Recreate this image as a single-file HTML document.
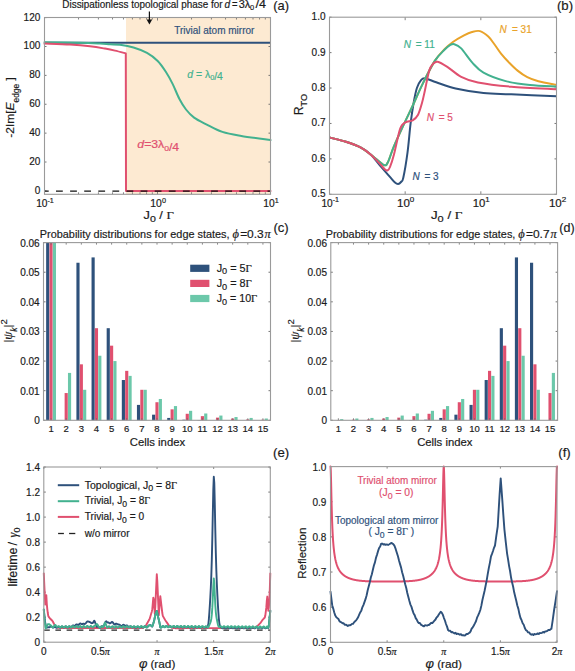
<!DOCTYPE html>
<html><head><meta charset="utf-8"><style>
html,body{margin:0;padding:0;background:#fff;overflow:hidden;width:575px;height:671px;}
svg{display:block;}
</style></head><body>
<svg width="575" height="671" viewBox="0 0 575 671" font-family="Liberation Sans">
<rect width="575" height="671" fill="#fff"/>
<rect x="126.00" y="17.50" width="144.50" height="176.80" fill="#fdead2" />
<line x1="44.50" y1="190.90" x2="46.50" y2="190.90" stroke="#666" stroke-width="0.9" />
<line x1="268.50" y1="190.90" x2="270.50" y2="190.90" stroke="#666" stroke-width="0.9" />
<text x="40.30" y="193.80" font-size="10" text-anchor="end" fill="#1a1a1a" stroke="#1a1a1a" stroke-width="0.18" font-family="Liberation Sans" >0</text>
<line x1="44.50" y1="162.02" x2="46.50" y2="162.02" stroke="#666" stroke-width="0.9" />
<line x1="268.50" y1="162.02" x2="270.50" y2="162.02" stroke="#666" stroke-width="0.9" />
<text x="40.30" y="164.92" font-size="10" text-anchor="end" fill="#1a1a1a" stroke="#1a1a1a" stroke-width="0.18" font-family="Liberation Sans" >20</text>
<line x1="44.50" y1="133.14" x2="46.50" y2="133.14" stroke="#666" stroke-width="0.9" />
<line x1="268.50" y1="133.14" x2="270.50" y2="133.14" stroke="#666" stroke-width="0.9" />
<text x="40.30" y="136.04" font-size="10" text-anchor="end" fill="#1a1a1a" stroke="#1a1a1a" stroke-width="0.18" font-family="Liberation Sans" >40</text>
<line x1="44.50" y1="104.26" x2="46.50" y2="104.26" stroke="#666" stroke-width="0.9" />
<line x1="268.50" y1="104.26" x2="270.50" y2="104.26" stroke="#666" stroke-width="0.9" />
<text x="40.30" y="107.16" font-size="10" text-anchor="end" fill="#1a1a1a" stroke="#1a1a1a" stroke-width="0.18" font-family="Liberation Sans" >60</text>
<line x1="44.50" y1="75.38" x2="46.50" y2="75.38" stroke="#666" stroke-width="0.9" />
<line x1="268.50" y1="75.38" x2="270.50" y2="75.38" stroke="#666" stroke-width="0.9" />
<text x="40.30" y="78.28" font-size="10" text-anchor="end" fill="#1a1a1a" stroke="#1a1a1a" stroke-width="0.18" font-family="Liberation Sans" >80</text>
<line x1="44.50" y1="46.50" x2="46.50" y2="46.50" stroke="#666" stroke-width="0.9" />
<line x1="268.50" y1="46.50" x2="270.50" y2="46.50" stroke="#666" stroke-width="0.9" />
<text x="40.30" y="49.40" font-size="10" text-anchor="end" fill="#1a1a1a" stroke="#1a1a1a" stroke-width="0.18" font-family="Liberation Sans" >100</text>
<line x1="44.50" y1="17.62" x2="46.50" y2="17.62" stroke="#666" stroke-width="0.9" />
<line x1="268.50" y1="17.62" x2="270.50" y2="17.62" stroke="#666" stroke-width="0.9" />
<text x="40.30" y="20.52" font-size="10" text-anchor="end" fill="#1a1a1a" stroke="#1a1a1a" stroke-width="0.18" font-family="Liberation Sans" >120</text>
<line x1="78.52" y1="194.30" x2="78.52" y2="192.30" stroke="#666" stroke-width="0.8" />
<line x1="78.52" y1="17.50" x2="78.52" y2="19.50" stroke="#666" stroke-width="0.8" />
<line x1="98.41" y1="194.30" x2="98.41" y2="192.30" stroke="#666" stroke-width="0.8" />
<line x1="98.41" y1="17.50" x2="98.41" y2="19.50" stroke="#666" stroke-width="0.8" />
<line x1="112.53" y1="194.30" x2="112.53" y2="192.30" stroke="#666" stroke-width="0.8" />
<line x1="112.53" y1="17.50" x2="112.53" y2="19.50" stroke="#666" stroke-width="0.8" />
<line x1="123.48" y1="194.30" x2="123.48" y2="192.30" stroke="#666" stroke-width="0.8" />
<line x1="123.48" y1="17.50" x2="123.48" y2="19.50" stroke="#666" stroke-width="0.8" />
<line x1="132.43" y1="194.30" x2="132.43" y2="192.30" stroke="#666" stroke-width="0.8" />
<line x1="132.43" y1="17.50" x2="132.43" y2="19.50" stroke="#666" stroke-width="0.8" />
<line x1="140.00" y1="194.30" x2="140.00" y2="192.30" stroke="#666" stroke-width="0.8" />
<line x1="140.00" y1="17.50" x2="140.00" y2="19.50" stroke="#666" stroke-width="0.8" />
<line x1="146.55" y1="194.30" x2="146.55" y2="192.30" stroke="#666" stroke-width="0.8" />
<line x1="146.55" y1="17.50" x2="146.55" y2="19.50" stroke="#666" stroke-width="0.8" />
<line x1="152.33" y1="194.30" x2="152.33" y2="192.30" stroke="#666" stroke-width="0.8" />
<line x1="152.33" y1="17.50" x2="152.33" y2="19.50" stroke="#666" stroke-width="0.8" />
<line x1="157.50" y1="194.30" x2="157.50" y2="191.30" stroke="#666" stroke-width="0.8" />
<line x1="157.50" y1="17.50" x2="157.50" y2="20.50" stroke="#666" stroke-width="0.8" />
<line x1="191.52" y1="194.30" x2="191.52" y2="192.30" stroke="#666" stroke-width="0.8" />
<line x1="191.52" y1="17.50" x2="191.52" y2="19.50" stroke="#666" stroke-width="0.8" />
<line x1="211.41" y1="194.30" x2="211.41" y2="192.30" stroke="#666" stroke-width="0.8" />
<line x1="211.41" y1="17.50" x2="211.41" y2="19.50" stroke="#666" stroke-width="0.8" />
<line x1="225.53" y1="194.30" x2="225.53" y2="192.30" stroke="#666" stroke-width="0.8" />
<line x1="225.53" y1="17.50" x2="225.53" y2="19.50" stroke="#666" stroke-width="0.8" />
<line x1="236.48" y1="194.30" x2="236.48" y2="192.30" stroke="#666" stroke-width="0.8" />
<line x1="236.48" y1="17.50" x2="236.48" y2="19.50" stroke="#666" stroke-width="0.8" />
<line x1="245.43" y1="194.30" x2="245.43" y2="192.30" stroke="#666" stroke-width="0.8" />
<line x1="245.43" y1="17.50" x2="245.43" y2="19.50" stroke="#666" stroke-width="0.8" />
<line x1="253.00" y1="194.30" x2="253.00" y2="192.30" stroke="#666" stroke-width="0.8" />
<line x1="253.00" y1="17.50" x2="253.00" y2="19.50" stroke="#666" stroke-width="0.8" />
<line x1="259.55" y1="194.30" x2="259.55" y2="192.30" stroke="#666" stroke-width="0.8" />
<line x1="259.55" y1="17.50" x2="259.55" y2="19.50" stroke="#666" stroke-width="0.8" />
<line x1="265.33" y1="194.30" x2="265.33" y2="192.30" stroke="#666" stroke-width="0.8" />
<line x1="265.33" y1="17.50" x2="265.33" y2="19.50" stroke="#666" stroke-width="0.8" />
<line x1="44.50" y1="42.75" x2="270.50" y2="42.75" stroke="#2e517b" stroke-width="1.8" />
<path d="M44.50,42.30 C50.42,42.38 70.75,42.58 80.00,42.80 C89.25,43.02 95.00,43.35 100.00,43.60 C105.00,43.85 106.67,44.10 110.00,44.30 C113.33,44.50 116.08,44.27 120.00,44.80 C123.92,45.33 129.00,46.15 133.50,47.50 C138.00,48.85 142.97,50.65 147.00,52.90 C151.03,55.15 154.57,57.85 157.70,61.00 C160.83,64.15 163.32,67.98 165.80,71.80 C168.28,75.62 170.35,79.42 172.60,83.90 C174.85,88.38 177.07,94.43 179.30,98.70 C181.53,102.97 183.53,106.35 186.00,109.50 C188.47,112.65 190.72,115.13 194.10,117.60 C197.48,120.07 201.58,121.92 206.30,124.30 C211.02,126.68 216.57,129.97 222.40,131.90 C228.23,133.83 233.28,134.55 241.30,135.90 C249.32,137.25 265.63,139.32 270.50,140.00" fill="none" stroke="#42b18f" stroke-width="2" stroke-linejoin="round" stroke-linecap="round" />
<path d="M44.50,43.60 C48.75,43.77 62.42,44.15 70.00,44.60 C77.58,45.05 84.17,45.63 90.00,46.30 C95.83,46.97 100.83,47.88 105.00,48.60 C109.17,49.32 111.53,49.80 115.00,50.60 C118.47,51.40 124.00,52.93 125.80,53.40 L126,191.1 L270.5,191.1" fill="none" stroke="#e0506f" stroke-width="2" stroke-linejoin="round" stroke-linecap="round" />
<line x1="44.50" y1="191.10" x2="270.50" y2="191.10" stroke="#111" stroke-width="1.2" stroke-dasharray="6.8 7.3" stroke-dashoffset="2.6"/>
<rect x="44.50" y="17.50" width="226.00" height="176.80" fill="none" stroke="#9a9a9a" stroke-width="1.1"/>
<text x="36.15" y="207.00" font-size="10" text-anchor="start" fill="#1a1a1a" stroke="#1a1a1a" stroke-width="0.18" font-family="Liberation Sans" textLength="17.70" lengthAdjust="spacingAndGlyphs" >10<tspan dy="-4.3" font-size="7">-1</tspan></text>
<text x="150.35" y="206.80" font-size="10" text-anchor="start" fill="#1a1a1a" stroke="#1a1a1a" stroke-width="0.18" font-family="Liberation Sans" textLength="15.60" lengthAdjust="spacingAndGlyphs" >10<tspan dy="-4.3" font-size="7">0</tspan></text>
<text x="263.35" y="206.80" font-size="10" text-anchor="start" fill="#1a1a1a" stroke="#1a1a1a" stroke-width="0.18" font-family="Liberation Sans" textLength="15.40" lengthAdjust="spacingAndGlyphs" >10<tspan dy="-4.3" font-size="7">1</tspan></text>
<text x="143.55" y="218.70" font-size="10.3" text-anchor="start" fill="#1a1a1a" stroke="#1a1a1a" stroke-width="0.18" font-family="Liberation Sans" textLength="30.20" lengthAdjust="spacingAndGlyphs" >J<tspan dy="2.8" font-size="8.6">0</tspan><tspan dy="-2.8"> /  </tspan><tspan font-family="Liberation Serif">Γ</tspan></text>
<text transform="translate(14.00,137.70) rotate(-90)" x="0" y="0" font-size="11.7" fill="#1a1a1a" stroke="#1a1a1a" stroke-width="0.18" font-family="Liberation Sans" textLength="60.50" lengthAdjust="spacingAndGlyphs" >-2Im[<tspan font-style="italic">E</tspan><tspan dy="5.0" font-size="8.2">edge</tspan><tspan dy="-5.0"> ]</tspan></text>
<text x="62.35" y="7.60" font-size="10" text-anchor="start" fill="#1a1a1a" stroke="#1a1a1a" stroke-width="0.18" font-family="Liberation Sans" textLength="160.30" lengthAdjust="spacingAndGlyphs" >Dissipationless topological phase for</text>
<text x="224.60" y="7.60" font-size="10" text-anchor="start" fill="#1a1a1a" stroke="#1a1a1a" stroke-width="0.18" font-family="Liberation Sans" ><tspan font-style="italic">d</tspan></text>
<text x="231.95" y="7.60" font-size="10" text-anchor="start" fill="#1a1a1a" stroke="#1a1a1a" stroke-width="0.18" font-family="Liberation Sans" textLength="5.50" lengthAdjust="spacingAndGlyphs" >=</text>
<text x="238.75" y="7.60" font-size="10" text-anchor="start" fill="#1a1a1a" stroke="#1a1a1a" stroke-width="0.18" font-family="Liberation Sans" textLength="11.50" lengthAdjust="spacingAndGlyphs" >3λ</text>
<text x="249.90" y="9.80" font-size="7.5" text-anchor="start" fill="#1a1a1a" stroke="#1a1a1a" stroke-width="0.18" font-family="Liberation Sans" >0</text>
<text x="255.45" y="7.60" font-size="10" text-anchor="start" fill="#1a1a1a" stroke="#1a1a1a" stroke-width="0.18" font-family="Liberation Sans" textLength="10.40" lengthAdjust="spacingAndGlyphs" >/4</text>
<text x="273.25" y="10.10" font-size="13.2" text-anchor="start" fill="#1a1a1a" stroke="#1a1a1a" stroke-width="0.18" font-family="Liberation Sans" textLength="15.80" lengthAdjust="spacingAndGlyphs" >(a)</text>
<text x="174.25" y="33.60" font-size="10" text-anchor="start" fill="#2e517b" stroke="#2e517b" stroke-width="0.18" font-family="Liberation Sans" textLength="80.10" lengthAdjust="spacingAndGlyphs" >Trivial atom mirror</text>
<text x="187.35" y="78.00" font-size="10" text-anchor="start" fill="#42b18f" stroke="#42b18f" stroke-width="0.18" font-family="Liberation Sans" textLength="35.50" lengthAdjust="spacingAndGlyphs" ><tspan font-style="italic">d</tspan> = λ<tspan dy="2.2" font-size="7">0</tspan><tspan dy="-2.2"></tspan>/4</text>
<text x="137.35" y="148.40" font-size="10" text-anchor="start" fill="#e0506f" stroke="#e0506f" stroke-width="0.18" font-family="Liberation Sans" textLength="41.80" lengthAdjust="spacingAndGlyphs" ><tspan font-style="italic">d</tspan>=3λ<tspan dy="2.2" font-size="7">0</tspan><tspan dy="-2.2"></tspan>/4</text>
<line x1="149.40" y1="11.50" x2="149.40" y2="21.00" stroke="#111" stroke-width="1.2" />
<path d="M146.6,19.5 L152.2,19.5 L149.4,24.6 Z" fill="#111"/>
<line x1="329.50" y1="194.30" x2="331.50" y2="194.30" stroke="#666" stroke-width="0.9" />
<line x1="554.50" y1="194.30" x2="556.50" y2="194.30" stroke="#666" stroke-width="0.9" />
<text x="325.50" y="197.20" font-size="10" text-anchor="end" fill="#1a1a1a" stroke="#1a1a1a" stroke-width="0.18" font-family="Liberation Sans" >0.5</text>
<line x1="329.50" y1="158.88" x2="331.50" y2="158.88" stroke="#666" stroke-width="0.9" />
<line x1="554.50" y1="158.88" x2="556.50" y2="158.88" stroke="#666" stroke-width="0.9" />
<text x="325.50" y="161.78" font-size="10" text-anchor="end" fill="#1a1a1a" stroke="#1a1a1a" stroke-width="0.18" font-family="Liberation Sans" >0.6</text>
<line x1="329.50" y1="123.46" x2="331.50" y2="123.46" stroke="#666" stroke-width="0.9" />
<line x1="554.50" y1="123.46" x2="556.50" y2="123.46" stroke="#666" stroke-width="0.9" />
<text x="325.50" y="126.36" font-size="10" text-anchor="end" fill="#1a1a1a" stroke="#1a1a1a" stroke-width="0.18" font-family="Liberation Sans" >0.7</text>
<line x1="329.50" y1="88.04" x2="331.50" y2="88.04" stroke="#666" stroke-width="0.9" />
<line x1="554.50" y1="88.04" x2="556.50" y2="88.04" stroke="#666" stroke-width="0.9" />
<text x="325.50" y="90.94" font-size="10" text-anchor="end" fill="#1a1a1a" stroke="#1a1a1a" stroke-width="0.18" font-family="Liberation Sans" >0.8</text>
<line x1="329.50" y1="52.62" x2="331.50" y2="52.62" stroke="#666" stroke-width="0.9" />
<line x1="554.50" y1="52.62" x2="556.50" y2="52.62" stroke="#666" stroke-width="0.9" />
<text x="325.50" y="55.52" font-size="10" text-anchor="end" fill="#1a1a1a" stroke="#1a1a1a" stroke-width="0.18" font-family="Liberation Sans" >0.9</text>
<line x1="329.50" y1="17.20" x2="331.50" y2="17.20" stroke="#666" stroke-width="0.9" />
<line x1="554.50" y1="17.20" x2="556.50" y2="17.20" stroke="#666" stroke-width="0.9" />
<text x="325.50" y="20.10" font-size="10" text-anchor="end" fill="#1a1a1a" stroke="#1a1a1a" stroke-width="0.18" font-family="Liberation Sans" >1.0</text>
<line x1="405.17" y1="194.30" x2="405.17" y2="191.30" stroke="#666" stroke-width="0.8" />
<line x1="405.17" y1="17.20" x2="405.17" y2="20.20" stroke="#666" stroke-width="0.8" />
<line x1="480.84" y1="194.30" x2="480.84" y2="191.30" stroke="#666" stroke-width="0.8" />
<line x1="480.84" y1="17.20" x2="480.84" y2="20.20" stroke="#666" stroke-width="0.8" />
<clipPath id="cb"><rect x="329.5" y="17.2" width="227" height="177.1"/></clipPath><g clip-path="url(#cb)">
<path d="M330.00,137.60 C332.65,138.30 340.82,140.17 345.90,141.80 C350.98,143.43 356.33,145.25 360.50,147.40 C364.67,149.55 367.42,151.40 370.90,154.70 C374.38,158.00 378.27,163.55 381.40,167.20 C384.53,170.85 387.43,174.05 389.70,176.60 C391.97,179.15 393.60,181.27 395.00,182.50 C396.40,183.73 397.10,184.08 398.10,184.00 C399.10,183.92 400.13,183.05 401.00,182.00 C401.87,180.95 402.22,182.60 403.30,177.70 C404.38,172.80 406.28,161.65 407.50,152.60 C408.72,143.55 409.57,131.75 410.60,123.40 C411.63,115.05 412.65,108.40 413.70,102.50 C414.75,96.60 415.70,91.68 416.90,88.00 C418.10,84.32 419.55,82.00 420.90,80.40 C422.25,78.80 422.45,78.10 425.00,78.40 C427.55,78.70 431.10,80.52 436.20,82.20 C441.30,83.88 447.72,86.70 455.60,88.50 C463.48,90.30 474.22,92.03 483.50,93.00 C492.78,93.97 499.13,93.77 511.30,94.30 C523.47,94.83 548.97,95.88 556.50,96.20" fill="none" stroke="#2e517b" stroke-width="2" stroke-linejoin="round" stroke-linecap="round" />
<path d="M330.00,137.60 C332.65,138.30 340.82,140.17 345.90,141.80 C350.98,143.43 356.33,145.25 360.50,147.40 C364.67,149.55 367.98,152.52 370.90,154.70 C373.82,156.88 375.73,158.73 378.00,160.50 C380.27,162.27 382.83,165.05 384.50,165.30 C386.17,165.55 386.43,165.15 388.00,162.00 C389.57,158.85 391.18,152.83 393.90,146.40 C396.62,139.97 401.17,130.18 404.30,123.40 C407.43,116.62 409.70,112.17 412.70,105.70 C415.70,99.23 418.62,92.07 422.30,84.60 C425.98,77.13 431.10,66.78 434.80,60.90 C438.50,55.02 441.48,52.45 444.50,49.30 C447.52,46.15 449.65,44.32 452.90,42.00 C456.15,39.68 460.82,37.07 464.00,35.40 C467.18,33.73 469.33,32.72 472.00,32.00 C474.67,31.28 477.28,30.35 480.00,31.10 C482.72,31.85 485.93,34.35 488.30,36.50 C490.67,38.65 492.08,41.15 494.20,44.00 C496.32,46.85 498.45,50.43 501.00,53.60 C503.55,56.77 506.73,60.17 509.50,63.00 C512.27,65.83 514.63,68.23 517.60,70.60 C520.57,72.97 523.83,75.42 527.30,77.20 C530.77,78.98 533.53,80.03 538.40,81.30 C543.27,82.57 553.48,84.22 556.50,84.80" fill="none" stroke="#e9a32a" stroke-width="2" stroke-linejoin="round" stroke-linecap="round" />
<path d="M330.00,137.60 C332.65,138.30 340.82,140.17 345.90,141.80 C350.98,143.43 356.33,145.25 360.50,147.40 C364.67,149.55 367.98,152.52 370.90,154.70 C373.82,156.88 375.73,158.73 378.00,160.50 C380.27,162.27 382.83,165.05 384.50,165.30 C386.17,165.55 386.43,165.15 388.00,162.00 C389.57,158.85 391.18,152.83 393.90,146.40 C396.62,139.97 401.17,130.18 404.30,123.40 C407.43,116.62 409.70,112.17 412.70,105.70 C415.70,99.23 418.62,92.07 422.30,84.60 C425.98,77.13 431.10,66.70 434.80,60.90 C438.50,55.10 441.97,52.42 444.50,49.80 C447.03,47.18 448.37,46.13 450.00,45.20 C451.63,44.27 452.43,43.67 454.30,44.20 C456.17,44.73 458.20,45.33 461.20,48.40 C464.20,51.47 468.58,58.57 472.30,62.60 C476.02,66.63 477.93,69.52 483.50,72.60 C489.07,75.68 497.95,79.03 505.70,81.10 C513.45,83.17 521.53,84.08 530.00,85.00 C538.47,85.92 552.08,86.33 556.50,86.60" fill="none" stroke="#42b18f" stroke-width="2" stroke-linejoin="round" stroke-linecap="round" />
<path d="M330.00,137.60 C332.65,138.30 340.82,140.17 345.90,141.80 C350.98,143.43 356.33,145.25 360.50,147.40 C364.67,149.55 367.65,151.93 370.90,154.70 C374.15,157.47 377.65,161.53 380.00,164.00 C382.35,166.47 383.73,168.43 385.00,169.50 C386.27,170.57 386.77,170.82 387.60,170.40 C388.43,169.98 388.95,169.62 390.00,167.00 C391.05,164.38 392.20,161.10 393.90,154.70 C395.60,148.30 398.28,133.98 400.20,128.60 C402.12,123.22 403.32,123.78 405.40,122.40 C407.48,121.02 410.62,121.53 412.70,120.30 C414.78,119.07 416.33,117.97 417.90,115.00 C419.47,112.03 420.92,106.67 422.10,102.50 C423.28,98.33 423.82,95.32 425.00,90.00 C426.18,84.68 427.87,74.93 429.20,70.60 C430.53,66.27 431.60,65.48 433.00,64.00 C434.40,62.52 435.22,61.23 437.60,61.70 C439.98,62.17 443.37,64.28 447.30,66.80 C451.23,69.32 456.10,74.18 461.20,76.80 C466.30,79.42 469.55,80.85 477.90,82.50 C486.25,84.15 498.20,85.57 511.30,86.70 C524.40,87.83 548.97,88.87 556.50,89.30" fill="none" stroke="#e0506f" stroke-width="2" stroke-linejoin="round" stroke-linecap="round" />
</g>
<rect x="329.50" y="17.20" width="227.00" height="177.10" fill="none" stroke="#9a9a9a" stroke-width="1.1"/>
<text x="321.45" y="206.50" font-size="10" text-anchor="start" fill="#1a1a1a" stroke="#1a1a1a" stroke-width="0.18" font-family="Liberation Sans" textLength="17.60" lengthAdjust="spacingAndGlyphs" >10<tspan dy="-4.3" font-size="7">-1</tspan></text>
<text x="397.05" y="206.50" font-size="10" text-anchor="start" fill="#1a1a1a" stroke="#1a1a1a" stroke-width="0.18" font-family="Liberation Sans" textLength="17.30" lengthAdjust="spacingAndGlyphs" >10<tspan dy="-4.3" font-size="7">0</tspan></text>
<text x="472.65" y="206.50" font-size="10" text-anchor="start" fill="#1a1a1a" stroke="#1a1a1a" stroke-width="0.18" font-family="Liberation Sans" textLength="17.00" lengthAdjust="spacingAndGlyphs" >10<tspan dy="-4.3" font-size="7">1</tspan></text>
<text x="548.95" y="206.50" font-size="10" text-anchor="start" fill="#1a1a1a" stroke="#1a1a1a" stroke-width="0.18" font-family="Liberation Sans" textLength="17.30" lengthAdjust="spacingAndGlyphs" >10<tspan dy="-4.3" font-size="7">2</tspan></text>
<text x="430.95" y="218.70" font-size="10.3" text-anchor="start" fill="#1a1a1a" stroke="#1a1a1a" stroke-width="0.18" font-family="Liberation Sans" textLength="31.50" lengthAdjust="spacingAndGlyphs" >J<tspan dy="2.8" font-size="8.6">0</tspan><tspan dy="-2.8"> /  </tspan><tspan font-family="Liberation Serif">Γ</tspan></text>
<text transform="translate(303.20,115.20) rotate(-90)" x="0" y="0" font-size="12.2" fill="#1a1a1a" stroke="#1a1a1a" stroke-width="0.18" font-family="Liberation Sans" >R<tspan dy="3.8" font-size="9.2">TO</tspan><tspan dy="-3.8"></tspan></text>
<text x="556.95" y="10.30" font-size="13.2" text-anchor="start" fill="#1a1a1a" stroke="#1a1a1a" stroke-width="0.18" font-family="Liberation Sans" textLength="16.10" lengthAdjust="spacingAndGlyphs" >(b)</text>
<text x="403.80" y="48.00" font-size="10" text-anchor="start" fill="#42b18f" stroke="#42b18f" stroke-width="0.18" font-family="Liberation Sans" ><tspan font-style="italic">N</tspan></text>
<text x="415.70" y="48.00" font-size="10" text-anchor="start" fill="#42b18f" stroke="#42b18f" stroke-width="0.18" font-family="Liberation Sans" >= 11</text>
<text x="499.50" y="32.70" font-size="10" text-anchor="start" fill="#e9a32a" stroke="#e9a32a" stroke-width="0.18" font-family="Liberation Sans" ><tspan font-style="italic">N</tspan></text>
<text x="512.00" y="32.70" font-size="10" text-anchor="start" fill="#e9a32a" stroke="#e9a32a" stroke-width="0.18" font-family="Liberation Sans" >= 31</text>
<text x="426.70" y="121.10" font-size="10" text-anchor="start" fill="#e0506f" stroke="#e0506f" stroke-width="0.18" font-family="Liberation Sans" ><tspan font-style="italic">N</tspan></text>
<text x="438.70" y="121.10" font-size="10" text-anchor="start" fill="#e0506f" stroke="#e0506f" stroke-width="0.18" font-family="Liberation Sans" >= 5</text>
<text x="412.50" y="179.80" font-size="10" text-anchor="start" fill="#2e517b" stroke="#2e517b" stroke-width="0.18" font-family="Liberation Sans" ><tspan font-style="italic">N</tspan></text>
<text x="424.40" y="179.80" font-size="10" text-anchor="start" fill="#2e517b" stroke="#2e517b" stroke-width="0.18" font-family="Liberation Sans" >= 3</text>
<rect x="46.14" y="242.60" width="3.15" height="177.70" fill="#2e517b" />
<rect x="49.49" y="242.60" width="3.15" height="177.70" fill="#e0506f" />
<rect x="52.84" y="242.60" width="3.15" height="177.70" fill="#6cc8aa" />
<rect x="64.62" y="393.05" width="3.15" height="27.25" fill="#e0506f" />
<rect x="67.97" y="372.91" width="3.15" height="47.39" fill="#6cc8aa" />
<rect x="76.41" y="262.74" width="3.15" height="157.56" fill="#2e517b" />
<rect x="79.76" y="364.32" width="3.15" height="55.98" fill="#e0506f" />
<rect x="83.11" y="389.79" width="3.15" height="30.51" fill="#6cc8aa" />
<rect x="91.54" y="257.41" width="3.15" height="162.89" fill="#2e517b" />
<rect x="94.89" y="328.19" width="3.15" height="92.11" fill="#e0506f" />
<rect x="98.24" y="355.74" width="3.15" height="64.56" fill="#6cc8aa" />
<rect x="106.67" y="328.19" width="3.15" height="92.11" fill="#2e517b" />
<rect x="110.02" y="345.67" width="3.15" height="74.63" fill="#e0506f" />
<rect x="113.37" y="361.07" width="3.15" height="59.23" fill="#6cc8aa" />
<rect x="121.81" y="380.02" width="3.15" height="40.28" fill="#2e517b" />
<rect x="125.16" y="370.84" width="3.15" height="49.46" fill="#e0506f" />
<rect x="128.51" y="375.88" width="3.15" height="44.43" fill="#6cc8aa" />
<rect x="136.94" y="404.90" width="3.15" height="15.40" fill="#2e517b" />
<rect x="140.29" y="389.79" width="3.15" height="30.51" fill="#e0506f" />
<rect x="143.64" y="389.79" width="3.15" height="30.51" fill="#6cc8aa" />
<rect x="152.08" y="414.67" width="3.15" height="5.63" fill="#2e517b" />
<rect x="155.43" y="402.23" width="3.15" height="18.07" fill="#e0506f" />
<rect x="158.78" y="398.98" width="3.15" height="21.32" fill="#6cc8aa" />
<rect x="167.21" y="417.93" width="3.15" height="2.37" fill="#2e517b" />
<rect x="170.56" y="409.34" width="3.15" height="10.96" fill="#e0506f" />
<rect x="173.91" y="406.08" width="3.15" height="14.22" fill="#6cc8aa" />
<rect x="182.34" y="419.71" width="3.15" height="0.59" fill="#2e517b" />
<rect x="185.69" y="413.78" width="3.15" height="6.52" fill="#e0506f" />
<rect x="189.04" y="410.82" width="3.15" height="9.48" fill="#6cc8aa" />
<rect x="197.48" y="420.00" width="3.15" height="0.30" fill="#2e517b" />
<rect x="200.83" y="416.15" width="3.15" height="4.15" fill="#e0506f" />
<rect x="204.18" y="413.49" width="3.15" height="6.81" fill="#6cc8aa" />
<rect x="215.96" y="417.63" width="3.15" height="2.67" fill="#e0506f" />
<rect x="219.31" y="415.56" width="3.15" height="4.74" fill="#6cc8aa" />
<rect x="231.09" y="418.52" width="3.15" height="1.78" fill="#e0506f" />
<rect x="234.44" y="417.04" width="3.15" height="3.26" fill="#6cc8aa" />
<rect x="246.22" y="419.41" width="3.15" height="0.89" fill="#e0506f" />
<rect x="249.57" y="417.93" width="3.15" height="2.37" fill="#6cc8aa" />
<rect x="261.36" y="419.71" width="3.15" height="0.59" fill="#e0506f" />
<rect x="264.71" y="418.52" width="3.15" height="1.78" fill="#6cc8aa" />
<line x1="51.07" y1="242.60" x2="51.07" y2="244.60" stroke="#666" stroke-width="0.8" />
<line x1="51.07" y1="420.30" x2="51.07" y2="418.30" stroke="#666" stroke-width="0.8" />
<text x="51.07" y="431.80" font-size="9.5" text-anchor="middle" fill="#1a1a1a" stroke="#1a1a1a" stroke-width="0.18" font-family="Liberation Sans" >1</text>
<line x1="66.20" y1="242.60" x2="66.20" y2="244.60" stroke="#666" stroke-width="0.8" />
<line x1="66.20" y1="420.30" x2="66.20" y2="418.30" stroke="#666" stroke-width="0.8" />
<text x="66.20" y="431.80" font-size="9.5" text-anchor="middle" fill="#1a1a1a" stroke="#1a1a1a" stroke-width="0.18" font-family="Liberation Sans" >2</text>
<line x1="81.33" y1="242.60" x2="81.33" y2="244.60" stroke="#666" stroke-width="0.8" />
<line x1="81.33" y1="420.30" x2="81.33" y2="418.30" stroke="#666" stroke-width="0.8" />
<text x="81.33" y="431.80" font-size="9.5" text-anchor="middle" fill="#1a1a1a" stroke="#1a1a1a" stroke-width="0.18" font-family="Liberation Sans" >3</text>
<line x1="96.47" y1="242.60" x2="96.47" y2="244.60" stroke="#666" stroke-width="0.8" />
<line x1="96.47" y1="420.30" x2="96.47" y2="418.30" stroke="#666" stroke-width="0.8" />
<text x="96.47" y="431.80" font-size="9.5" text-anchor="middle" fill="#1a1a1a" stroke="#1a1a1a" stroke-width="0.18" font-family="Liberation Sans" >4</text>
<line x1="111.60" y1="242.60" x2="111.60" y2="244.60" stroke="#666" stroke-width="0.8" />
<line x1="111.60" y1="420.30" x2="111.60" y2="418.30" stroke="#666" stroke-width="0.8" />
<text x="111.60" y="431.80" font-size="9.5" text-anchor="middle" fill="#1a1a1a" stroke="#1a1a1a" stroke-width="0.18" font-family="Liberation Sans" >5</text>
<line x1="126.73" y1="242.60" x2="126.73" y2="244.60" stroke="#666" stroke-width="0.8" />
<line x1="126.73" y1="420.30" x2="126.73" y2="418.30" stroke="#666" stroke-width="0.8" />
<text x="126.73" y="431.80" font-size="9.5" text-anchor="middle" fill="#1a1a1a" stroke="#1a1a1a" stroke-width="0.18" font-family="Liberation Sans" >6</text>
<line x1="141.87" y1="242.60" x2="141.87" y2="244.60" stroke="#666" stroke-width="0.8" />
<line x1="141.87" y1="420.30" x2="141.87" y2="418.30" stroke="#666" stroke-width="0.8" />
<text x="141.87" y="431.80" font-size="9.5" text-anchor="middle" fill="#1a1a1a" stroke="#1a1a1a" stroke-width="0.18" font-family="Liberation Sans" >7</text>
<line x1="157.00" y1="242.60" x2="157.00" y2="244.60" stroke="#666" stroke-width="0.8" />
<line x1="157.00" y1="420.30" x2="157.00" y2="418.30" stroke="#666" stroke-width="0.8" />
<text x="157.00" y="431.80" font-size="9.5" text-anchor="middle" fill="#1a1a1a" stroke="#1a1a1a" stroke-width="0.18" font-family="Liberation Sans" >8</text>
<line x1="172.13" y1="242.60" x2="172.13" y2="244.60" stroke="#666" stroke-width="0.8" />
<line x1="172.13" y1="420.30" x2="172.13" y2="418.30" stroke="#666" stroke-width="0.8" />
<text x="172.13" y="431.80" font-size="9.5" text-anchor="middle" fill="#1a1a1a" stroke="#1a1a1a" stroke-width="0.18" font-family="Liberation Sans" >9</text>
<line x1="187.27" y1="242.60" x2="187.27" y2="244.60" stroke="#666" stroke-width="0.8" />
<line x1="187.27" y1="420.30" x2="187.27" y2="418.30" stroke="#666" stroke-width="0.8" />
<text x="187.27" y="431.80" font-size="9.5" text-anchor="middle" fill="#1a1a1a" stroke="#1a1a1a" stroke-width="0.18" font-family="Liberation Sans" >10</text>
<line x1="202.40" y1="242.60" x2="202.40" y2="244.60" stroke="#666" stroke-width="0.8" />
<line x1="202.40" y1="420.30" x2="202.40" y2="418.30" stroke="#666" stroke-width="0.8" />
<text x="202.40" y="431.80" font-size="9.5" text-anchor="middle" fill="#1a1a1a" stroke="#1a1a1a" stroke-width="0.18" font-family="Liberation Sans" >11</text>
<line x1="217.53" y1="242.60" x2="217.53" y2="244.60" stroke="#666" stroke-width="0.8" />
<line x1="217.53" y1="420.30" x2="217.53" y2="418.30" stroke="#666" stroke-width="0.8" />
<text x="217.53" y="431.80" font-size="9.5" text-anchor="middle" fill="#1a1a1a" stroke="#1a1a1a" stroke-width="0.18" font-family="Liberation Sans" >12</text>
<line x1="232.67" y1="242.60" x2="232.67" y2="244.60" stroke="#666" stroke-width="0.8" />
<line x1="232.67" y1="420.30" x2="232.67" y2="418.30" stroke="#666" stroke-width="0.8" />
<text x="232.67" y="431.80" font-size="9.5" text-anchor="middle" fill="#1a1a1a" stroke="#1a1a1a" stroke-width="0.18" font-family="Liberation Sans" >13</text>
<line x1="247.80" y1="242.60" x2="247.80" y2="244.60" stroke="#666" stroke-width="0.8" />
<line x1="247.80" y1="420.30" x2="247.80" y2="418.30" stroke="#666" stroke-width="0.8" />
<text x="247.80" y="431.80" font-size="9.5" text-anchor="middle" fill="#1a1a1a" stroke="#1a1a1a" stroke-width="0.18" font-family="Liberation Sans" >14</text>
<line x1="262.93" y1="242.60" x2="262.93" y2="244.60" stroke="#666" stroke-width="0.8" />
<line x1="262.93" y1="420.30" x2="262.93" y2="418.30" stroke="#666" stroke-width="0.8" />
<text x="262.93" y="431.80" font-size="9.5" text-anchor="middle" fill="#1a1a1a" stroke="#1a1a1a" stroke-width="0.18" font-family="Liberation Sans" >15</text>
<line x1="43.50" y1="420.30" x2="45.50" y2="420.30" stroke="#666" stroke-width="0.9" />
<line x1="268.50" y1="420.30" x2="270.50" y2="420.30" stroke="#666" stroke-width="0.9" />
<text x="39.70" y="424.30" font-size="10" text-anchor="end" fill="#1a1a1a" stroke="#1a1a1a" stroke-width="0.18" font-family="Liberation Sans" >0</text>
<line x1="43.50" y1="390.68" x2="45.50" y2="390.68" stroke="#666" stroke-width="0.9" />
<line x1="268.50" y1="390.68" x2="270.50" y2="390.68" stroke="#666" stroke-width="0.9" />
<text x="39.70" y="394.68" font-size="10" text-anchor="end" fill="#1a1a1a" stroke="#1a1a1a" stroke-width="0.18" font-family="Liberation Sans" >0.01</text>
<line x1="43.50" y1="361.07" x2="45.50" y2="361.07" stroke="#666" stroke-width="0.9" />
<line x1="268.50" y1="361.07" x2="270.50" y2="361.07" stroke="#666" stroke-width="0.9" />
<text x="39.70" y="365.07" font-size="10" text-anchor="end" fill="#1a1a1a" stroke="#1a1a1a" stroke-width="0.18" font-family="Liberation Sans" >0.02</text>
<line x1="43.50" y1="331.45" x2="45.50" y2="331.45" stroke="#666" stroke-width="0.9" />
<line x1="268.50" y1="331.45" x2="270.50" y2="331.45" stroke="#666" stroke-width="0.9" />
<text x="39.70" y="335.45" font-size="10" text-anchor="end" fill="#1a1a1a" stroke="#1a1a1a" stroke-width="0.18" font-family="Liberation Sans" >0.03</text>
<line x1="43.50" y1="301.83" x2="45.50" y2="301.83" stroke="#666" stroke-width="0.9" />
<line x1="268.50" y1="301.83" x2="270.50" y2="301.83" stroke="#666" stroke-width="0.9" />
<text x="39.70" y="305.83" font-size="10" text-anchor="end" fill="#1a1a1a" stroke="#1a1a1a" stroke-width="0.18" font-family="Liberation Sans" >0.04</text>
<line x1="43.50" y1="272.22" x2="45.50" y2="272.22" stroke="#666" stroke-width="0.9" />
<line x1="268.50" y1="272.22" x2="270.50" y2="272.22" stroke="#666" stroke-width="0.9" />
<text x="39.70" y="276.22" font-size="10" text-anchor="end" fill="#1a1a1a" stroke="#1a1a1a" stroke-width="0.18" font-family="Liberation Sans" >0.05</text>
<line x1="43.50" y1="242.60" x2="45.50" y2="242.60" stroke="#666" stroke-width="0.9" />
<line x1="268.50" y1="242.60" x2="270.50" y2="242.60" stroke="#666" stroke-width="0.9" />
<text x="39.70" y="246.60" font-size="10" text-anchor="end" fill="#1a1a1a" stroke="#1a1a1a" stroke-width="0.18" font-family="Liberation Sans" >0.06</text>
<rect x="43.50" y="242.60" width="227.00" height="177.70" fill="none" stroke="#9a9a9a" stroke-width="1.1"/>
<text x="129.85" y="446.40" font-size="11" text-anchor="start" fill="#1a1a1a" stroke="#1a1a1a" stroke-width="0.18" font-family="Liberation Sans" textLength="55.30" lengthAdjust="spacingAndGlyphs" >Cells index</text>
<text x="39.85" y="238.20" font-size="10.8" text-anchor="start" fill="#1a1a1a" stroke="#1a1a1a" stroke-width="0.18" font-family="Liberation Sans" textLength="189.70" lengthAdjust="spacingAndGlyphs" >Probability distributions for edge states,</text>
<text x="232.40" y="237.60" font-size="12.5" text-anchor="start" fill="#1a1a1a" stroke="#1a1a1a" stroke-width="0.18" font-family="Liberation Sans" ><tspan font-family="Liberation Serif" font-style="italic">&#x3d5;</tspan></text>
<text x="240.15" y="238.20" font-size="10.8" text-anchor="start" fill="#1a1a1a" stroke="#1a1a1a" stroke-width="0.18" font-family="Liberation Sans" textLength="23.60" lengthAdjust="spacingAndGlyphs" >=0.3</text>
<text x="264.60" y="238.20" font-size="12.5" text-anchor="start" fill="#1a1a1a" stroke="#1a1a1a" stroke-width="0.18" font-family="Liberation Sans" ><tspan font-family="Liberation Serif" font-style="italic">&#x3c0;</tspan></text>
<text x="273.45" y="231.50" font-size="13.2" text-anchor="start" fill="#1a1a1a" stroke="#1a1a1a" stroke-width="0.18" font-family="Liberation Sans" textLength="15.30" lengthAdjust="spacingAndGlyphs" >(c)</text>
<text transform="translate(11.80,342.60) rotate(-90)" x="0" y="0" font-size="11" fill="#1a1a1a" stroke="#1a1a1a" stroke-width="0.18" font-family="Liberation Sans" >|<tspan font-family="Liberation Serif" font-style="italic" font-size="13">ψ</tspan><tspan dy="5.3" font-size="8.5" font-style="italic">k</tspan><tspan dy="-5.3">|</tspan><tspan dy="-4.9" font-size="9.5">2</tspan></text>
<rect x="336.79" y="420.00" width="3.15" height="0.30" fill="#e0506f" />
<rect x="340.14" y="419.12" width="3.15" height="1.18" fill="#6cc8aa" />
<rect x="351.91" y="419.71" width="3.15" height="0.59" fill="#e0506f" />
<rect x="355.26" y="418.52" width="3.15" height="1.78" fill="#6cc8aa" />
<rect x="367.03" y="419.41" width="3.15" height="0.89" fill="#e0506f" />
<rect x="370.38" y="417.93" width="3.15" height="2.37" fill="#6cc8aa" />
<rect x="382.15" y="418.52" width="3.15" height="1.78" fill="#e0506f" />
<rect x="385.50" y="417.04" width="3.15" height="3.26" fill="#6cc8aa" />
<rect x="397.27" y="417.63" width="3.15" height="2.67" fill="#e0506f" />
<rect x="400.62" y="415.56" width="3.15" height="4.74" fill="#6cc8aa" />
<rect x="409.04" y="420.00" width="3.15" height="0.30" fill="#2e517b" />
<rect x="412.39" y="416.15" width="3.15" height="4.15" fill="#e0506f" />
<rect x="415.74" y="413.49" width="3.15" height="6.81" fill="#6cc8aa" />
<rect x="424.16" y="419.71" width="3.15" height="0.59" fill="#2e517b" />
<rect x="427.51" y="413.78" width="3.15" height="6.52" fill="#e0506f" />
<rect x="430.86" y="410.82" width="3.15" height="9.48" fill="#6cc8aa" />
<rect x="439.28" y="417.93" width="3.15" height="2.37" fill="#2e517b" />
<rect x="442.63" y="409.34" width="3.15" height="10.96" fill="#e0506f" />
<rect x="445.98" y="406.08" width="3.15" height="14.22" fill="#6cc8aa" />
<rect x="454.40" y="414.67" width="3.15" height="5.63" fill="#2e517b" />
<rect x="457.75" y="402.23" width="3.15" height="18.07" fill="#e0506f" />
<rect x="461.10" y="398.98" width="3.15" height="21.32" fill="#6cc8aa" />
<rect x="469.52" y="404.90" width="3.15" height="15.40" fill="#2e517b" />
<rect x="472.87" y="389.79" width="3.15" height="30.51" fill="#e0506f" />
<rect x="476.22" y="389.79" width="3.15" height="30.51" fill="#6cc8aa" />
<rect x="484.64" y="380.02" width="3.15" height="40.28" fill="#2e517b" />
<rect x="487.99" y="370.84" width="3.15" height="49.46" fill="#e0506f" />
<rect x="491.34" y="375.88" width="3.15" height="44.43" fill="#6cc8aa" />
<rect x="499.76" y="328.19" width="3.15" height="92.11" fill="#2e517b" />
<rect x="503.11" y="345.67" width="3.15" height="74.63" fill="#e0506f" />
<rect x="506.46" y="361.07" width="3.15" height="59.23" fill="#6cc8aa" />
<rect x="514.87" y="257.41" width="3.15" height="162.89" fill="#2e517b" />
<rect x="518.22" y="328.19" width="3.15" height="92.11" fill="#e0506f" />
<rect x="521.57" y="355.74" width="3.15" height="64.56" fill="#6cc8aa" />
<rect x="530.00" y="262.74" width="3.15" height="157.56" fill="#2e517b" />
<rect x="533.35" y="364.32" width="3.15" height="55.98" fill="#e0506f" />
<rect x="536.70" y="389.79" width="3.15" height="30.51" fill="#6cc8aa" />
<rect x="548.46" y="393.05" width="3.15" height="27.25" fill="#e0506f" />
<rect x="551.81" y="372.91" width="3.15" height="47.39" fill="#6cc8aa" />
<line x1="338.36" y1="242.60" x2="338.36" y2="244.60" stroke="#666" stroke-width="0.8" />
<line x1="338.36" y1="420.30" x2="338.36" y2="418.30" stroke="#666" stroke-width="0.8" />
<text x="338.36" y="431.80" font-size="9.5" text-anchor="middle" fill="#1a1a1a" stroke="#1a1a1a" stroke-width="0.18" font-family="Liberation Sans" >1</text>
<line x1="353.48" y1="242.60" x2="353.48" y2="244.60" stroke="#666" stroke-width="0.8" />
<line x1="353.48" y1="420.30" x2="353.48" y2="418.30" stroke="#666" stroke-width="0.8" />
<text x="353.48" y="431.80" font-size="9.5" text-anchor="middle" fill="#1a1a1a" stroke="#1a1a1a" stroke-width="0.18" font-family="Liberation Sans" >2</text>
<line x1="368.60" y1="242.60" x2="368.60" y2="244.60" stroke="#666" stroke-width="0.8" />
<line x1="368.60" y1="420.30" x2="368.60" y2="418.30" stroke="#666" stroke-width="0.8" />
<text x="368.60" y="431.80" font-size="9.5" text-anchor="middle" fill="#1a1a1a" stroke="#1a1a1a" stroke-width="0.18" font-family="Liberation Sans" >3</text>
<line x1="383.72" y1="242.60" x2="383.72" y2="244.60" stroke="#666" stroke-width="0.8" />
<line x1="383.72" y1="420.30" x2="383.72" y2="418.30" stroke="#666" stroke-width="0.8" />
<text x="383.72" y="431.80" font-size="9.5" text-anchor="middle" fill="#1a1a1a" stroke="#1a1a1a" stroke-width="0.18" font-family="Liberation Sans" >4</text>
<line x1="398.84" y1="242.60" x2="398.84" y2="244.60" stroke="#666" stroke-width="0.8" />
<line x1="398.84" y1="420.30" x2="398.84" y2="418.30" stroke="#666" stroke-width="0.8" />
<text x="398.84" y="431.80" font-size="9.5" text-anchor="middle" fill="#1a1a1a" stroke="#1a1a1a" stroke-width="0.18" font-family="Liberation Sans" >5</text>
<line x1="413.96" y1="242.60" x2="413.96" y2="244.60" stroke="#666" stroke-width="0.8" />
<line x1="413.96" y1="420.30" x2="413.96" y2="418.30" stroke="#666" stroke-width="0.8" />
<text x="413.96" y="431.80" font-size="9.5" text-anchor="middle" fill="#1a1a1a" stroke="#1a1a1a" stroke-width="0.18" font-family="Liberation Sans" >6</text>
<line x1="429.08" y1="242.60" x2="429.08" y2="244.60" stroke="#666" stroke-width="0.8" />
<line x1="429.08" y1="420.30" x2="429.08" y2="418.30" stroke="#666" stroke-width="0.8" />
<text x="429.08" y="431.80" font-size="9.5" text-anchor="middle" fill="#1a1a1a" stroke="#1a1a1a" stroke-width="0.18" font-family="Liberation Sans" >7</text>
<line x1="444.20" y1="242.60" x2="444.20" y2="244.60" stroke="#666" stroke-width="0.8" />
<line x1="444.20" y1="420.30" x2="444.20" y2="418.30" stroke="#666" stroke-width="0.8" />
<text x="444.20" y="431.80" font-size="9.5" text-anchor="middle" fill="#1a1a1a" stroke="#1a1a1a" stroke-width="0.18" font-family="Liberation Sans" >8</text>
<line x1="459.32" y1="242.60" x2="459.32" y2="244.60" stroke="#666" stroke-width="0.8" />
<line x1="459.32" y1="420.30" x2="459.32" y2="418.30" stroke="#666" stroke-width="0.8" />
<text x="459.32" y="431.80" font-size="9.5" text-anchor="middle" fill="#1a1a1a" stroke="#1a1a1a" stroke-width="0.18" font-family="Liberation Sans" >9</text>
<line x1="474.44" y1="242.60" x2="474.44" y2="244.60" stroke="#666" stroke-width="0.8" />
<line x1="474.44" y1="420.30" x2="474.44" y2="418.30" stroke="#666" stroke-width="0.8" />
<text x="474.44" y="431.80" font-size="9.5" text-anchor="middle" fill="#1a1a1a" stroke="#1a1a1a" stroke-width="0.18" font-family="Liberation Sans" >10</text>
<line x1="489.56" y1="242.60" x2="489.56" y2="244.60" stroke="#666" stroke-width="0.8" />
<line x1="489.56" y1="420.30" x2="489.56" y2="418.30" stroke="#666" stroke-width="0.8" />
<text x="489.56" y="431.80" font-size="9.5" text-anchor="middle" fill="#1a1a1a" stroke="#1a1a1a" stroke-width="0.18" font-family="Liberation Sans" >11</text>
<line x1="504.68" y1="242.60" x2="504.68" y2="244.60" stroke="#666" stroke-width="0.8" />
<line x1="504.68" y1="420.30" x2="504.68" y2="418.30" stroke="#666" stroke-width="0.8" />
<text x="504.68" y="431.80" font-size="9.5" text-anchor="middle" fill="#1a1a1a" stroke="#1a1a1a" stroke-width="0.18" font-family="Liberation Sans" >12</text>
<line x1="519.80" y1="242.60" x2="519.80" y2="244.60" stroke="#666" stroke-width="0.8" />
<line x1="519.80" y1="420.30" x2="519.80" y2="418.30" stroke="#666" stroke-width="0.8" />
<text x="519.80" y="431.80" font-size="9.5" text-anchor="middle" fill="#1a1a1a" stroke="#1a1a1a" stroke-width="0.18" font-family="Liberation Sans" >13</text>
<line x1="534.92" y1="242.60" x2="534.92" y2="244.60" stroke="#666" stroke-width="0.8" />
<line x1="534.92" y1="420.30" x2="534.92" y2="418.30" stroke="#666" stroke-width="0.8" />
<text x="534.92" y="431.80" font-size="9.5" text-anchor="middle" fill="#1a1a1a" stroke="#1a1a1a" stroke-width="0.18" font-family="Liberation Sans" >14</text>
<line x1="550.04" y1="242.60" x2="550.04" y2="244.60" stroke="#666" stroke-width="0.8" />
<line x1="550.04" y1="420.30" x2="550.04" y2="418.30" stroke="#666" stroke-width="0.8" />
<text x="550.04" y="431.80" font-size="9.5" text-anchor="middle" fill="#1a1a1a" stroke="#1a1a1a" stroke-width="0.18" font-family="Liberation Sans" >15</text>
<line x1="330.80" y1="420.30" x2="332.80" y2="420.30" stroke="#666" stroke-width="0.9" />
<line x1="555.60" y1="420.30" x2="557.60" y2="420.30" stroke="#666" stroke-width="0.9" />
<text x="327.00" y="424.30" font-size="10" text-anchor="end" fill="#1a1a1a" stroke="#1a1a1a" stroke-width="0.18" font-family="Liberation Sans" >0</text>
<line x1="330.80" y1="390.68" x2="332.80" y2="390.68" stroke="#666" stroke-width="0.9" />
<line x1="555.60" y1="390.68" x2="557.60" y2="390.68" stroke="#666" stroke-width="0.9" />
<text x="327.00" y="394.68" font-size="10" text-anchor="end" fill="#1a1a1a" stroke="#1a1a1a" stroke-width="0.18" font-family="Liberation Sans" >0.01</text>
<line x1="330.80" y1="361.07" x2="332.80" y2="361.07" stroke="#666" stroke-width="0.9" />
<line x1="555.60" y1="361.07" x2="557.60" y2="361.07" stroke="#666" stroke-width="0.9" />
<text x="327.00" y="365.07" font-size="10" text-anchor="end" fill="#1a1a1a" stroke="#1a1a1a" stroke-width="0.18" font-family="Liberation Sans" >0.02</text>
<line x1="330.80" y1="331.45" x2="332.80" y2="331.45" stroke="#666" stroke-width="0.9" />
<line x1="555.60" y1="331.45" x2="557.60" y2="331.45" stroke="#666" stroke-width="0.9" />
<text x="327.00" y="335.45" font-size="10" text-anchor="end" fill="#1a1a1a" stroke="#1a1a1a" stroke-width="0.18" font-family="Liberation Sans" >0.03</text>
<line x1="330.80" y1="301.83" x2="332.80" y2="301.83" stroke="#666" stroke-width="0.9" />
<line x1="555.60" y1="301.83" x2="557.60" y2="301.83" stroke="#666" stroke-width="0.9" />
<text x="327.00" y="305.83" font-size="10" text-anchor="end" fill="#1a1a1a" stroke="#1a1a1a" stroke-width="0.18" font-family="Liberation Sans" >0.04</text>
<line x1="330.80" y1="272.22" x2="332.80" y2="272.22" stroke="#666" stroke-width="0.9" />
<line x1="555.60" y1="272.22" x2="557.60" y2="272.22" stroke="#666" stroke-width="0.9" />
<text x="327.00" y="276.22" font-size="10" text-anchor="end" fill="#1a1a1a" stroke="#1a1a1a" stroke-width="0.18" font-family="Liberation Sans" >0.05</text>
<line x1="330.80" y1="242.60" x2="332.80" y2="242.60" stroke="#666" stroke-width="0.9" />
<line x1="555.60" y1="242.60" x2="557.60" y2="242.60" stroke="#666" stroke-width="0.9" />
<text x="327.00" y="246.60" font-size="10" text-anchor="end" fill="#1a1a1a" stroke="#1a1a1a" stroke-width="0.18" font-family="Liberation Sans" >0.06</text>
<rect x="330.80" y="242.60" width="226.80" height="177.70" fill="none" stroke="#9a9a9a" stroke-width="1.1"/>
<text x="417.15" y="446.40" font-size="11" text-anchor="start" fill="#1a1a1a" stroke="#1a1a1a" stroke-width="0.18" font-family="Liberation Sans" textLength="55.30" lengthAdjust="spacingAndGlyphs" >Cells index</text>
<text x="325.65" y="238.20" font-size="10.8" text-anchor="start" fill="#1a1a1a" stroke="#1a1a1a" stroke-width="0.18" font-family="Liberation Sans" textLength="189.70" lengthAdjust="spacingAndGlyphs" >Probability distributions for edge states,</text>
<text x="518.20" y="237.60" font-size="12.5" text-anchor="start" fill="#1a1a1a" stroke="#1a1a1a" stroke-width="0.18" font-family="Liberation Sans" ><tspan font-family="Liberation Serif" font-style="italic">&#x3d5;</tspan></text>
<text x="525.95" y="238.20" font-size="10.8" text-anchor="start" fill="#1a1a1a" stroke="#1a1a1a" stroke-width="0.18" font-family="Liberation Sans" textLength="23.60" lengthAdjust="spacingAndGlyphs" >=0.7</text>
<text x="550.40" y="238.20" font-size="12.5" text-anchor="start" fill="#1a1a1a" stroke="#1a1a1a" stroke-width="0.18" font-family="Liberation Sans" ><tspan font-family="Liberation Serif" font-style="italic">&#x3c0;</tspan></text>
<text x="559.25" y="232.00" font-size="13.2" text-anchor="start" fill="#1a1a1a" stroke="#1a1a1a" stroke-width="0.18" font-family="Liberation Sans" textLength="15.30" lengthAdjust="spacingAndGlyphs" >(d)</text>
<text transform="translate(299.10,342.60) rotate(-90)" x="0" y="0" font-size="11" fill="#1a1a1a" stroke="#1a1a1a" stroke-width="0.18" font-family="Liberation Sans" >|<tspan font-family="Liberation Serif" font-style="italic" font-size="13">ψ</tspan><tspan dy="5.3" font-size="8.5" font-style="italic">k</tspan><tspan dy="-5.3">|</tspan><tspan dy="-4.9" font-size="9.5">2</tspan></text>
<rect x="190.20" y="264.70" width="19.20" height="7.20" fill="#2e517b" />
<text x="216.65" y="271.70" font-size="10" text-anchor="start" fill="#1a1a1a" stroke="#1a1a1a" stroke-width="0.18" font-family="Liberation Sans" textLength="35.10" lengthAdjust="spacingAndGlyphs" >J<tspan dy="2.7" font-size="8.5">0</tspan><tspan dy="-2.7"> = </tspan>5<tspan font-family="Liberation Serif">Γ</tspan></text>
<rect x="190.20" y="279.80" width="19.20" height="7.20" fill="#e0506f" />
<text x="216.65" y="286.80" font-size="10" text-anchor="start" fill="#1a1a1a" stroke="#1a1a1a" stroke-width="0.18" font-family="Liberation Sans" textLength="35.10" lengthAdjust="spacingAndGlyphs" >J<tspan dy="2.7" font-size="8.5">0</tspan><tspan dy="-2.7"> = </tspan>8<tspan font-family="Liberation Serif">Γ</tspan></text>
<rect x="190.20" y="294.90" width="19.20" height="7.20" fill="#6cc8aa" />
<text x="216.65" y="301.90" font-size="10" text-anchor="start" fill="#1a1a1a" stroke="#1a1a1a" stroke-width="0.18" font-family="Liberation Sans" textLength="40.60" lengthAdjust="spacingAndGlyphs" >J<tspan dy="2.7" font-size="8.5">0</tspan><tspan dy="-2.7"> = </tspan>10<tspan font-family="Liberation Serif">Γ</tspan></text>
<line x1="43.80" y1="642.20" x2="45.80" y2="642.20" stroke="#666" stroke-width="0.9" />
<line x1="268.30" y1="642.20" x2="270.30" y2="642.20" stroke="#666" stroke-width="0.9" />
<text x="40.00" y="646.30" font-size="10" text-anchor="end" fill="#1a1a1a" stroke="#1a1a1a" stroke-width="0.18" font-family="Liberation Sans" >0</text>
<line x1="43.80" y1="617.18" x2="45.80" y2="617.18" stroke="#666" stroke-width="0.9" />
<line x1="268.30" y1="617.18" x2="270.30" y2="617.18" stroke="#666" stroke-width="0.9" />
<text x="40.00" y="621.28" font-size="10" text-anchor="end" fill="#1a1a1a" stroke="#1a1a1a" stroke-width="0.18" font-family="Liberation Sans" >0.2</text>
<line x1="43.80" y1="592.16" x2="45.80" y2="592.16" stroke="#666" stroke-width="0.9" />
<line x1="268.30" y1="592.16" x2="270.30" y2="592.16" stroke="#666" stroke-width="0.9" />
<text x="40.00" y="596.26" font-size="10" text-anchor="end" fill="#1a1a1a" stroke="#1a1a1a" stroke-width="0.18" font-family="Liberation Sans" >0.4</text>
<line x1="43.80" y1="567.14" x2="45.80" y2="567.14" stroke="#666" stroke-width="0.9" />
<line x1="268.30" y1="567.14" x2="270.30" y2="567.14" stroke="#666" stroke-width="0.9" />
<text x="40.00" y="571.24" font-size="10" text-anchor="end" fill="#1a1a1a" stroke="#1a1a1a" stroke-width="0.18" font-family="Liberation Sans" >0.6</text>
<line x1="43.80" y1="542.12" x2="45.80" y2="542.12" stroke="#666" stroke-width="0.9" />
<line x1="268.30" y1="542.12" x2="270.30" y2="542.12" stroke="#666" stroke-width="0.9" />
<text x="40.00" y="546.22" font-size="10" text-anchor="end" fill="#1a1a1a" stroke="#1a1a1a" stroke-width="0.18" font-family="Liberation Sans" >0.8</text>
<line x1="43.80" y1="517.10" x2="45.80" y2="517.10" stroke="#666" stroke-width="0.9" />
<line x1="268.30" y1="517.10" x2="270.30" y2="517.10" stroke="#666" stroke-width="0.9" />
<text x="40.00" y="521.20" font-size="10" text-anchor="end" fill="#1a1a1a" stroke="#1a1a1a" stroke-width="0.18" font-family="Liberation Sans" >1.0</text>
<line x1="43.80" y1="492.08" x2="45.80" y2="492.08" stroke="#666" stroke-width="0.9" />
<line x1="268.30" y1="492.08" x2="270.30" y2="492.08" stroke="#666" stroke-width="0.9" />
<text x="40.00" y="496.18" font-size="10" text-anchor="end" fill="#1a1a1a" stroke="#1a1a1a" stroke-width="0.18" font-family="Liberation Sans" >1.2</text>
<line x1="43.80" y1="467.06" x2="45.80" y2="467.06" stroke="#666" stroke-width="0.9" />
<line x1="268.30" y1="467.06" x2="270.30" y2="467.06" stroke="#666" stroke-width="0.9" />
<text x="40.00" y="471.16" font-size="10" text-anchor="end" fill="#1a1a1a" stroke="#1a1a1a" stroke-width="0.18" font-family="Liberation Sans" >1.4</text>
<line x1="43.80" y1="642.20" x2="43.80" y2="640.20" stroke="#666" stroke-width="0.8" />
<line x1="43.80" y1="467.00" x2="43.80" y2="469.00" stroke="#666" stroke-width="0.8" />
<line x1="100.42" y1="642.20" x2="100.42" y2="640.20" stroke="#666" stroke-width="0.8" />
<line x1="100.42" y1="467.00" x2="100.42" y2="469.00" stroke="#666" stroke-width="0.8" />
<line x1="157.05" y1="642.20" x2="157.05" y2="640.20" stroke="#666" stroke-width="0.8" />
<line x1="157.05" y1="467.00" x2="157.05" y2="469.00" stroke="#666" stroke-width="0.8" />
<line x1="213.68" y1="642.20" x2="213.68" y2="640.20" stroke="#666" stroke-width="0.8" />
<line x1="213.68" y1="467.00" x2="213.68" y2="469.00" stroke="#666" stroke-width="0.8" />
<line x1="270.30" y1="642.20" x2="270.30" y2="640.20" stroke="#666" stroke-width="0.8" />
<line x1="270.30" y1="467.00" x2="270.30" y2="469.00" stroke="#666" stroke-width="0.8" />
<line x1="44.20" y1="630.20" x2="270.30" y2="630.20" stroke="#222" stroke-width="1.2" stroke-dasharray="5.6 5.6"/>
<polyline points="43.80,573.39 44.30,585.01 44.80,595.29 45.30,604.67 45.80,599.92 46.30,595.16 46.80,603.74 47.30,609.36 47.80,613.01 48.30,616.09 48.80,616.87 49.30,617.65 49.80,618.21 50.30,618.71 50.80,619.22 51.30,619.72 51.80,620.23 52.30,620.73 52.80,621.51 53.30,622.48 53.80,623.44 54.30,624.40 54.80,625.37 55.30,625.92 55.80,626.37 56.30,626.81 56.80,627.26 57.30,627.50 57.80,627.61 58.30,627.71 58.80,627.81 59.30,627.92 59.80,628.02 60.30,628.06 60.80,628.06 61.30,628.06 61.80,628.06 62.30,628.06 62.80,628.06 63.30,628.06 63.80,628.06 64.30,628.06 64.80,628.06 65.30,628.06 65.80,628.06 66.30,628.06 66.80,628.06 67.30,628.06 67.80,628.06 68.30,628.06 68.80,628.06 69.30,628.06 69.80,628.06 70.30,628.06 70.80,628.06 71.30,628.06 71.80,628.06 72.30,628.06 72.80,628.06 73.30,628.06 73.80,628.06 74.30,628.06 74.80,628.06 75.30,628.06 75.80,628.06 76.30,628.06 76.80,628.06 77.30,628.06 77.80,628.06 78.30,628.06 78.80,628.06 79.30,628.06 79.80,628.06 80.30,628.06 80.80,628.06 81.30,628.06 81.80,628.06 82.30,628.06 82.80,628.06 83.30,628.06 83.80,628.06 84.30,628.06 84.80,628.06 85.30,628.06 85.80,628.06 86.30,628.06 86.80,628.06 87.30,628.06 87.80,628.06 88.30,628.06 88.80,628.06 89.30,628.06 89.80,628.06 90.30,628.06 90.80,628.06 91.30,628.06 91.80,628.06 92.30,628.06 92.80,628.06 93.30,628.06 93.80,628.06 94.30,628.06 94.80,628.06 95.30,628.06 95.80,628.06 96.30,628.06 96.80,628.06 97.30,628.06 97.80,628.06 98.30,628.06 98.80,628.06 99.30,628.06 99.80,628.06 100.30,628.06 100.80,628.06 101.30,628.06 101.80,628.06 102.30,628.06 102.80,628.06 103.30,628.06 103.80,628.06 104.30,628.06 104.80,628.06 105.30,628.06 105.80,628.06 106.30,628.06 106.80,628.06 107.30,628.06 107.80,628.06 108.30,628.06 108.80,628.06 109.30,628.06 109.80,628.06 110.30,628.06 110.80,628.06 111.30,628.06 111.80,628.06 112.30,628.06 112.80,628.06 113.30,628.06 113.80,628.06 114.30,628.06 114.80,628.06 115.30,628.06 115.80,628.06 116.30,628.06 116.80,628.06 117.30,628.06 117.80,628.06 118.30,628.06 118.80,628.06 119.30,628.06 119.80,628.06 120.30,628.06 120.80,628.06 121.30,628.06 121.80,628.06 122.30,628.06 122.80,628.06 123.30,628.06 123.80,628.06 124.30,628.06 124.80,628.06 125.30,628.06 125.80,628.06 126.30,628.06 126.80,628.06 127.30,628.06 127.80,628.06 128.30,628.06 128.80,628.06 129.30,628.06 129.80,628.06 130.30,628.06 130.80,628.06 131.30,628.06 131.80,628.06 132.30,628.06 132.80,628.06 133.30,628.06 133.80,628.06 134.30,628.06 134.80,628.06 135.30,628.06 135.80,628.06 136.30,628.06 136.80,628.06 137.30,628.06 137.80,628.06 138.30,628.06 138.80,628.06 139.30,628.06 139.80,628.06 140.30,628.06 140.80,628.06 141.30,628.06 141.80,628.06 142.30,628.06 142.80,628.06 143.30,627.79 143.80,627.32 144.30,626.86 144.80,626.39 145.30,625.93 145.80,625.46 146.30,624.84 146.80,623.96 147.30,623.08 147.80,622.21 148.30,621.33 148.80,620.46 149.30,619.58 149.80,618.38 150.30,616.70 150.80,615.01 151.30,613.33 151.80,611.65 152.30,609.14 152.80,603.37 153.30,597.60 153.80,599.58 154.30,606.73 154.80,613.87 155.30,606.67 155.80,595.88 156.30,585.09 156.80,574.30 157.30,581.23 157.80,592.59 158.30,603.95 158.80,615.30 159.30,608.15 159.80,601.01 160.30,596.13 160.80,600.35 161.30,604.58 161.80,608.80 162.30,613.02 162.80,615.90 163.30,616.77 163.80,617.63 164.30,618.50 164.80,619.36 165.30,620.20 165.80,620.94 166.30,621.67 166.80,622.40 167.30,623.13 167.80,623.87 168.30,624.60 168.80,625.27 169.30,625.66 169.80,626.06 170.30,626.46 170.80,626.86 171.30,627.26 171.80,627.65 172.30,627.85 172.80,627.91 173.30,627.98 173.80,628.04 174.30,628.10 174.80,628.16 175.30,628.19 175.80,628.19 176.30,628.19 176.80,628.19 177.30,628.19 177.80,628.18 178.30,628.18 178.80,628.18 179.30,628.18 179.80,628.18 180.30,628.18 180.80,628.18 181.30,628.18 181.80,628.18 182.30,628.18 182.80,628.18 183.30,628.18 183.80,628.17 184.30,628.17 184.80,628.17 185.30,628.17 185.80,628.17 186.30,628.17 186.80,628.17 187.30,628.17 187.80,628.17 188.30,628.17 188.80,628.17 189.30,628.17 189.80,628.17 190.30,628.16 190.80,628.16 191.30,628.16 191.80,628.16 192.30,628.16 192.80,628.16 193.30,628.16 193.80,628.16 194.30,628.16 194.80,628.16 195.30,628.16 195.80,628.16 196.30,628.16 196.80,628.15 197.30,628.15 197.80,628.15 198.30,628.15 198.80,628.15 199.30,628.15 199.80,628.15 200.30,628.15 200.80,628.15 201.30,628.15 201.80,628.15 202.30,628.15 202.80,628.14 203.30,628.14 203.80,628.14 204.30,628.14 204.80,628.14 205.30,628.14 205.80,628.14 206.30,628.14 206.80,628.14 207.30,628.14 207.80,628.14 208.30,628.14 208.80,628.14 209.30,628.13 209.80,628.13 210.30,628.13 210.80,628.13 211.30,628.13 211.80,628.13 212.30,628.13 212.80,628.13 213.30,628.13 213.80,628.13 214.30,628.13 214.80,628.13 215.30,628.12 215.80,628.12 216.30,628.12 216.80,628.12 217.30,628.12 217.80,628.12 218.30,628.12 218.80,628.12 219.30,628.12 219.80,628.12 220.30,628.12 220.80,628.12 221.30,628.12 221.80,628.11 222.30,628.11 222.80,628.11 223.30,628.11 223.80,628.11 224.30,628.11 224.80,628.11 225.30,628.11 225.80,628.11 226.30,628.11 226.80,628.11 227.30,628.11 227.80,628.11 228.30,628.10 228.80,628.10 229.30,628.10 229.80,628.10 230.30,628.10 230.80,628.10 231.30,628.10 231.80,628.10 232.30,628.10 232.80,628.10 233.30,628.10 233.80,628.10 234.30,628.09 234.80,628.09 235.30,628.09 235.80,628.09 236.30,628.09 236.80,628.09 237.30,628.09 237.80,628.09 238.30,628.09 238.80,628.09 239.30,628.09 239.80,628.09 240.30,628.09 240.80,628.08 241.30,628.08 241.80,628.08 242.30,628.08 242.80,628.08 243.30,628.08 243.80,628.08 244.30,628.08 244.80,628.08 245.30,628.08 245.80,628.08 246.30,628.08 246.80,628.08 247.30,628.07 247.80,628.07 248.30,628.07 248.80,628.07 249.30,628.07 249.80,628.07 250.30,628.07 250.80,628.07 251.30,628.07 251.80,628.07 252.30,628.07 252.80,628.07 253.30,628.06 253.80,628.06 254.30,627.91 254.80,627.66 255.30,627.40 255.80,627.15 256.30,626.89 256.80,626.59 257.30,626.10 257.80,625.62 258.30,625.13 258.80,624.64 259.30,624.16 259.80,623.67 260.30,623.18 260.80,622.46 261.30,621.73 261.80,621.00 262.30,620.27 262.80,619.58 263.30,619.06 263.80,618.54 264.30,618.01 264.80,617.49 265.30,615.60 265.80,611.63 266.30,607.67 266.80,600.72 267.30,596.58 267.80,603.67 268.30,610.76 268.80,607.67 269.30,602.04 269.80,589.66 270.30,573.39" fill="none" stroke="#e0506f" stroke-width="1.9" stroke-linejoin="round" stroke-linecap="round" />
<polyline points="43.80,609.62 44.30,614.64 44.80,619.99 45.30,623.32 45.80,625.03 46.30,626.39 46.80,627.48 47.30,627.53 47.80,627.17 48.30,627.16 48.80,627.33 49.30,627.38 49.80,627.10 50.30,626.70 50.80,626.38 51.30,626.29 51.80,626.56 52.30,627.05 52.80,627.49 53.30,627.61 53.80,627.40 54.30,627.07 54.80,626.91 55.30,627.02 55.80,627.36 56.30,627.69 56.80,627.75 57.30,627.46 57.80,626.99 58.30,626.64 58.80,626.62 59.30,626.92 59.80,627.28 60.30,627.44 60.80,627.26 61.30,626.85 61.80,626.50 62.30,626.47 62.80,626.77 63.30,627.19 63.80,627.43 64.30,627.32 64.80,626.94 65.30,626.55 65.80,626.45 66.30,626.69 66.80,627.11 67.30,627.41 67.80,627.37 68.30,627.02 68.80,626.62 69.30,626.44 69.80,626.62 70.30,626.92 70.80,627.10 71.30,626.97 71.80,626.51 72.30,625.92 72.80,625.51 73.30,625.45 73.80,625.66 74.30,625.88 74.80,625.82 75.30,625.41 75.80,624.84 76.30,624.43 76.80,624.35 77.30,624.58 77.80,624.87 78.30,624.93 78.80,624.63 79.30,624.10 79.80,623.64 80.30,623.48 80.80,623.66 81.30,623.96 81.80,624.08 82.30,624.07 82.80,623.84 83.30,623.61 83.80,623.66 84.30,624.06 84.80,623.94 85.30,623.70 85.80,623.12 86.30,622.52 86.80,621.85 87.30,621.42 87.80,621.35 88.30,621.50 88.80,621.59 89.30,621.85 89.80,622.10 90.30,622.22 90.80,622.52 91.30,623.18 91.80,623.16 92.30,623.14 92.80,622.84 93.30,622.20 93.80,621.37 94.30,620.67 94.80,621.54 95.30,623.04 95.80,624.59 96.30,625.92 96.80,626.88 97.30,626.62 97.80,626.41 98.30,626.52 98.80,626.96 99.30,627.52 99.80,627.90 100.30,627.65 100.80,627.06 101.30,626.47 101.80,626.15 102.30,626.19 102.80,626.40 103.30,626.49 103.80,626.25 104.30,624.91 104.80,623.51 105.30,622.34 105.80,621.53 106.30,621.23 106.80,621.98 107.30,622.42 107.80,622.52 108.30,622.50 108.80,622.66 109.30,623.18 109.80,623.21 110.30,623.24 110.80,622.99 111.30,622.40 111.80,621.91 112.30,621.98 112.80,622.39 113.30,623.11 113.80,623.89 114.30,624.44 114.80,624.63 115.30,624.14 115.80,623.72 116.30,623.60 116.80,623.82 117.30,624.16 117.80,624.32 118.30,624.53 118.80,624.56 119.30,624.59 119.80,624.90 120.30,625.56 120.80,625.89 121.30,626.09 121.80,625.96 122.30,625.51 122.80,625.01 123.30,624.73 123.80,624.82 124.30,625.18 124.80,625.69 125.30,625.88 125.80,625.74 126.30,625.48 126.80,625.40 127.30,625.67 127.80,626.21 128.30,626.75 128.80,627.02 129.30,626.85 129.80,626.48 130.30,626.24 130.80,626.32 131.30,626.72 131.80,627.18 132.30,627.41 132.80,627.28 133.30,626.93 133.80,626.63 134.30,626.65 134.80,627.00 135.30,627.43 135.80,627.66 136.30,627.53 136.80,627.14 137.30,626.74 137.80,626.61 138.30,626.84 138.80,627.25 139.30,627.53 139.80,627.48 140.30,627.12 140.80,626.70 141.30,626.51 141.80,626.67 142.30,627.06 142.80,627.40 143.30,627.42 143.80,627.11 144.30,626.67 144.80,626.41 145.30,626.51 145.80,626.88 146.30,627.25 146.80,627.34 147.30,627.08 147.80,626.65 148.30,626.03 148.80,625.55 149.30,625.37 149.80,625.26 150.30,624.92 150.80,625.33 151.30,625.79 151.80,626.31 152.30,626.58 152.80,624.96 153.30,623.45 153.80,621.77 154.30,619.74 154.80,617.43 155.30,615.38 155.80,613.60 156.30,612.18 156.80,610.93 157.30,612.96 157.80,615.49 158.30,617.72 158.80,619.80 159.30,621.98 159.80,624.51 160.30,627.27 160.80,627.51 161.30,627.43 161.80,627.01 162.30,626.47 162.80,626.12 163.30,626.18 163.80,626.57 164.30,626.96 164.80,627.08 165.30,626.85 165.80,626.43 166.30,626.14 166.80,626.18 167.30,626.54 167.80,626.95 168.30,627.14 168.80,626.97 169.30,626.57 169.80,626.23 170.30,626.20 170.80,626.50 171.30,626.93 171.80,627.18 172.30,627.08 172.80,626.71 173.30,626.33 173.80,626.23 174.30,626.48 174.80,626.91 175.30,627.21 175.80,627.18 176.30,626.84 176.80,626.44 177.30,626.27 177.80,626.46 178.30,626.87 178.80,627.23 179.30,627.27 179.80,626.98 180.30,626.56 180.80,626.33 181.30,626.45 181.80,626.84 182.30,627.23 182.80,627.34 183.30,627.11 183.80,626.69 184.30,626.40 184.80,626.45 185.30,626.80 185.80,627.22 186.30,627.40 186.80,627.23 187.30,626.83 187.80,626.49 188.30,626.46 188.80,626.77 189.30,627.20 189.80,627.45 190.30,627.34 190.80,626.97 191.30,626.59 191.80,626.49 192.30,626.74 192.80,627.17 193.30,627.47 193.80,627.44 194.30,627.10 194.80,626.70 195.30,626.53 195.80,626.72 196.30,627.13 196.80,627.49 197.30,627.53 197.80,627.24 198.30,626.83 198.80,626.59 199.30,626.71 199.80,627.10 200.30,627.49 200.80,627.61 201.30,627.37 201.80,626.96 202.30,626.66 202.80,626.71 203.30,627.06 203.80,627.48 204.30,627.66 204.80,627.49 205.30,627.09 205.80,626.75 206.30,626.90 206.80,627.25 207.30,627.49 207.80,626.90 208.30,624.48 208.80,619.81 209.30,613.35 209.80,605.87 210.30,597.61 210.80,588.02 211.30,575.92 211.80,559.89 212.30,538.90 212.80,513.75 213.30,489.61 213.80,476.78 214.30,483.07 214.80,504.37 215.30,529.74 215.80,551.95 216.30,569.30 216.80,582.75 217.30,593.69 217.80,603.10 218.30,611.31 218.80,618.06 219.30,622.87 219.80,625.53 220.30,626.56 220.80,626.95 221.30,627.35 221.80,628.01 222.30,628.31 222.80,628.14 223.30,627.73 223.80,627.38 224.30,627.34 224.80,627.64 225.30,628.06 225.80,628.31 226.30,628.20 226.80,627.81 227.30,627.43 227.80,627.32 228.30,627.56 228.80,627.98 229.30,628.28 229.80,628.25 230.30,627.90 230.80,627.49 231.30,627.31 231.80,627.49 232.30,627.90 232.80,628.25 233.30,628.28 233.80,627.98 234.30,627.56 234.80,627.32 235.30,627.43 235.80,627.81 236.30,628.20 236.80,628.31 237.30,628.06 237.80,627.64 238.30,627.34 238.80,627.38 239.30,627.73 239.80,628.14 240.30,628.31 240.80,628.14 241.30,627.73 241.80,627.38 242.30,627.34 242.80,627.64 243.30,628.06 243.80,628.31 244.30,628.20 244.80,627.81 245.30,627.43 245.80,627.32 246.30,627.56 246.80,627.98 247.30,628.28 247.80,628.25 248.30,627.90 248.80,627.49 249.30,627.31 249.80,627.49 250.30,627.90 250.80,628.25 251.30,628.28 251.80,627.98 252.30,627.56 252.80,627.32 253.30,627.43 253.80,627.81 254.30,628.20 254.80,628.31 255.30,628.06 255.80,627.64 256.30,627.34 256.80,627.38 257.30,627.73 257.80,628.14 258.30,628.31 258.80,628.14 259.30,627.73 259.80,627.38 260.30,627.34 260.80,627.64 261.30,628.06 261.80,628.31 262.30,628.20 262.80,627.81 263.30,627.43 263.80,627.32 264.30,627.56 264.80,627.98 265.30,628.28 265.80,628.25 266.30,627.90 266.80,627.49 267.30,627.31 267.80,627.60 268.30,628.20 268.80,625.74 269.30,620.99 269.80,615.89 270.30,610.67" fill="none" stroke="#2e517b" stroke-width="1.9" stroke-linejoin="round" stroke-linecap="round" />
<polyline points="43.80,609.40 44.30,616.15 44.80,622.26 45.30,626.85 45.80,628.39 46.30,627.54 46.80,626.27 47.30,625.01 47.80,624.28 48.30,624.15 48.80,624.28 49.30,624.24 49.80,624.78 50.30,625.13 50.80,625.39 51.30,625.99 51.80,626.90 52.30,627.24 52.80,627.49 53.30,627.27 53.80,626.55 54.30,625.65 54.80,625.01 55.30,624.90 55.80,625.45 56.30,626.36 56.80,626.86 57.30,626.84 57.80,626.55 58.30,626.23 58.80,626.28 59.30,626.79 59.80,627.40 60.30,627.67 60.80,627.39 61.30,626.77 61.80,626.25 62.30,626.19 62.80,626.63 63.30,627.26 63.80,627.62 64.30,627.45 64.80,626.87 65.30,626.29 65.80,626.12 66.30,626.48 66.80,627.11 67.30,627.55 67.80,627.49 68.30,626.96 68.80,626.35 69.30,626.07 69.80,626.34 70.30,626.94 70.80,627.46 71.30,627.51 71.80,627.05 72.30,626.42 72.80,626.05 73.30,626.21 73.80,626.78 74.30,627.35 74.80,627.51 75.30,627.14 75.80,626.50 76.30,626.05 76.80,626.10 77.30,626.61 77.80,627.22 78.30,627.48 78.80,627.21 79.30,626.59 79.80,626.07 80.30,626.01 80.80,626.45 81.30,627.08 81.80,627.44 82.30,627.27 82.80,626.69 83.30,626.11 83.80,625.94 84.30,626.30 84.80,626.92 85.30,627.37 85.80,627.31 86.30,626.78 86.80,626.16 87.30,625.89 87.80,626.15 88.30,626.76 88.80,627.28 89.30,627.33 89.80,626.87 90.30,626.23 90.80,625.87 91.30,626.03 91.80,626.59 92.30,627.16 92.80,627.32 93.30,626.96 93.80,626.32 94.30,625.86 94.80,625.91 95.30,625.68 95.80,625.04 96.30,624.06 96.80,623.95 97.30,624.43 97.80,625.01 98.30,626.04 98.80,626.91 99.30,627.52 99.80,627.85 100.30,627.66 100.80,627.06 101.30,626.46 101.80,626.27 102.30,626.60 102.80,627.21 103.30,627.02 103.80,625.94 104.30,624.38 104.80,622.74 105.30,622.68 105.80,623.98 106.30,625.62 106.80,627.18 107.30,627.64 107.80,627.19 108.30,626.56 108.80,626.19 109.30,626.36 109.80,626.93 110.30,627.50 110.80,627.67 111.30,627.30 111.80,626.67 112.30,626.22 112.80,626.27 113.30,626.79 113.80,627.40 114.30,627.67 114.80,627.40 115.30,626.78 115.80,626.26 116.30,626.20 116.80,626.65 117.30,627.28 117.80,627.64 118.30,627.48 118.80,626.90 119.30,626.33 119.80,626.16 120.30,626.52 120.80,627.15 121.30,627.60 121.80,627.54 122.30,627.02 122.80,626.41 123.30,626.14 123.80,626.40 124.30,627.02 124.80,627.53 125.30,627.59 125.80,627.14 126.30,626.50 126.80,626.14 127.30,626.30 127.80,626.87 128.30,627.45 128.80,627.61 129.30,627.25 129.80,626.61 130.30,626.16 130.80,626.22 131.30,626.73 131.80,627.34 132.30,627.61 132.80,627.34 133.30,626.73 133.80,626.21 134.30,626.15 134.80,626.60 135.30,627.23 135.80,627.59 136.30,627.42 136.80,626.85 137.30,626.27 137.80,626.10 138.30,626.47 138.80,627.10 139.30,627.54 139.80,627.49 140.30,626.97 140.80,626.35 141.30,626.08 141.80,626.35 142.30,626.96 142.80,627.48 143.30,627.53 143.80,627.08 144.30,626.45 144.80,626.08 145.30,626.25 145.80,626.82 146.30,627.39 146.80,627.56 147.30,627.19 147.80,626.56 148.30,625.79 148.80,625.33 149.30,625.33 149.80,625.42 150.30,625.17 150.80,625.49 151.30,625.74 151.80,626.09 152.30,626.35 152.80,624.87 153.30,623.58 153.80,622.02 154.30,619.93 154.80,617.43 155.30,615.19 155.80,613.36 156.30,612.05 156.80,611.01 157.30,613.19 157.80,615.71 158.30,617.77 158.80,619.64 159.30,621.73 159.80,624.35 160.30,627.32 160.80,627.72 161.30,627.66 161.80,627.10 162.30,626.35 162.80,625.87 163.30,625.99 163.80,626.57 164.30,627.14 164.80,627.31 165.30,626.95 165.80,626.32 166.30,625.88 166.80,625.93 167.30,626.46 167.80,627.07 168.30,627.34 168.80,627.08 169.30,626.47 169.80,625.95 170.30,625.90 170.80,626.35 171.30,626.98 171.80,627.35 172.30,627.19 172.80,626.62 173.30,626.05 173.80,625.88 174.30,626.25 174.80,626.89 175.30,627.34 175.80,627.28 176.30,626.77 176.80,626.16 177.30,625.89 177.80,626.16 178.30,626.78 178.80,627.30 179.30,627.36 179.80,626.91 180.30,626.28 180.80,625.92 181.30,626.09 181.80,626.67 182.30,627.25 182.80,627.41 183.30,627.05 183.80,626.42 184.30,625.98 184.80,626.04 185.30,626.56 185.80,627.17 186.30,627.44 186.80,627.18 187.30,626.57 187.80,626.05 188.30,626.00 188.80,626.45 189.30,627.09 189.80,627.45 190.30,627.29 190.80,626.72 191.30,626.15 191.80,625.99 192.30,626.35 192.80,626.99 193.30,627.44 193.80,627.39 194.30,626.87 194.80,626.26 195.30,625.99 195.80,626.26 196.30,626.88 196.80,627.40 197.30,627.46 197.80,627.01 198.30,626.39 198.80,626.02 199.30,626.19 199.80,626.77 200.30,627.35 200.80,627.51 201.30,627.15 201.80,626.52 202.30,626.08 202.80,626.14 203.30,626.66 203.80,627.27 204.30,627.55 204.80,627.28 205.30,626.67 205.80,626.15 206.30,626.10 206.80,626.55 207.30,627.19 207.80,627.58 208.30,627.28 208.80,626.36 209.30,625.14 209.80,623.95 210.30,622.81 210.80,621.35 211.30,618.88 211.80,614.64 212.30,607.88 212.80,598.03 213.30,586.06 213.80,578.36 214.30,582.75 214.80,594.61 215.30,605.16 215.80,612.05 216.30,616.31 216.80,619.30 217.30,621.85 217.80,624.15 218.30,625.93 218.80,626.88 219.30,626.97 219.80,626.56 220.30,626.12 220.80,626.17 221.30,626.69 221.80,627.31 222.30,627.58 222.80,627.31 223.30,626.70 223.80,626.19 224.30,626.14 224.80,626.59 225.30,627.23 225.80,627.59 226.30,627.43 226.80,626.86 227.30,626.29 227.80,626.13 228.30,626.50 228.80,627.14 229.30,627.59 229.80,627.54 230.30,627.02 230.80,626.41 231.30,626.15 231.80,626.42 232.30,627.04 232.80,627.56 233.30,627.62 233.80,627.18 234.30,626.55 234.80,626.19 235.30,626.36 235.80,626.93 236.30,627.51 236.80,627.68 237.30,627.32 237.80,626.69 238.30,626.25 238.80,626.31 239.30,626.83 239.80,627.45 240.30,627.72 240.80,627.46 241.30,626.85 241.80,626.33 242.30,626.28 242.80,626.73 243.30,627.37 243.80,627.74 244.30,627.58 244.80,627.01 245.30,626.44 245.80,626.28 246.30,626.64 246.80,627.28 247.30,627.73 247.80,627.68 248.30,627.17 248.80,626.56 249.30,626.29 249.80,626.56 250.30,627.18 250.80,627.70 251.30,627.76 251.80,627.32 252.30,626.69 252.80,626.33 253.30,626.50 253.80,627.08 254.30,627.66 254.80,627.83 255.30,627.47 255.80,626.84 256.30,626.39 256.80,626.45 257.30,626.98 257.80,627.59 258.30,627.87 258.80,627.60 259.30,626.99 259.80,626.48 260.30,626.43 260.80,626.88 261.30,627.51 261.80,627.88 262.30,627.72 262.80,627.15 263.30,626.58 263.80,626.42 264.30,626.79 264.80,627.42 265.30,627.88 265.80,627.82 266.30,627.31 266.80,626.70 267.30,626.44 267.80,626.89 268.30,627.82 268.80,625.71 269.30,621.18 269.80,616.14 270.30,610.93" fill="none" stroke="#42b18f" stroke-width="1.9" stroke-linejoin="round" stroke-linecap="round" />
<rect x="43.80" y="467.00" width="226.50" height="175.20" fill="none" stroke="#9a9a9a" stroke-width="1.1"/>
<line x1="57.80" y1="485.20" x2="79.20" y2="485.20" stroke="#2e517b" stroke-width="2" />
<line x1="57.80" y1="501.20" x2="79.20" y2="501.20" stroke="#42b18f" stroke-width="2" />
<line x1="57.80" y1="516.90" x2="79.20" y2="516.90" stroke="#e0506f" stroke-width="2" />
<line x1="58.10" y1="533.50" x2="63.90" y2="533.50" stroke="#222" stroke-width="1.3" />
<line x1="69.10" y1="533.50" x2="75.30" y2="533.50" stroke="#222" stroke-width="1.3" />
<text x="84.75" y="488.60" font-size="10" text-anchor="start" fill="#1a1a1a" stroke="#1a1a1a" stroke-width="0.18" font-family="Liberation Sans" textLength="92.30" lengthAdjust="spacingAndGlyphs" >Topological, J<tspan dy="2.7" font-size="8.5">0</tspan><tspan dy="-2.7"> = </tspan>8<tspan font-family="Liberation Serif">Γ</tspan></text>
<text x="84.75" y="504.40" font-size="10" text-anchor="start" fill="#1a1a1a" stroke="#1a1a1a" stroke-width="0.18" font-family="Liberation Sans" textLength="65.50" lengthAdjust="spacingAndGlyphs" >Trivial, J<tspan dy="2.7" font-size="8.5">0</tspan><tspan dy="-2.7"> = </tspan>8<tspan font-family="Liberation Serif">Γ</tspan></text>
<text x="84.75" y="520.40" font-size="10" text-anchor="start" fill="#1a1a1a" stroke="#1a1a1a" stroke-width="0.18" font-family="Liberation Sans" textLength="59.40" lengthAdjust="spacingAndGlyphs" >Trivial, J<tspan dy="2.7" font-size="8.5">0</tspan><tspan dy="-2.7"> = </tspan>0</text>
<text x="84.75" y="536.80" font-size="10" text-anchor="start" fill="#1a1a1a" stroke="#1a1a1a" stroke-width="0.18" font-family="Liberation Sans" textLength="44.80" lengthAdjust="spacingAndGlyphs" >w/o mirror</text>
<text x="273.05" y="457.40" font-size="13.2" text-anchor="start" fill="#1a1a1a" stroke="#1a1a1a" stroke-width="0.18" font-family="Liberation Sans" textLength="16.20" lengthAdjust="spacingAndGlyphs" >(e)</text>
<text x="43.80" y="654.60" font-size="10" text-anchor="middle" fill="#1a1a1a" stroke="#1a1a1a" stroke-width="0.18" font-family="Liberation Sans" >0</text>
<text x="100.42" y="654.60" font-size="10" text-anchor="middle" fill="#1a1a1a" stroke="#1a1a1a" stroke-width="0.18" font-family="Liberation Sans" >0.5<tspan font-family="Liberation Serif" font-style="italic">&#x3c0;</tspan></text>
<text x="157.05" y="654.60" font-size="10" text-anchor="middle" fill="#1a1a1a" stroke="#1a1a1a" stroke-width="0.18" font-family="Liberation Sans" ><tspan font-family="Liberation Serif" font-style="italic">&#x3c0;</tspan></text>
<text x="213.68" y="654.60" font-size="10" text-anchor="middle" fill="#1a1a1a" stroke="#1a1a1a" stroke-width="0.18" font-family="Liberation Sans" >1.5<tspan font-family="Liberation Serif" font-style="italic">&#x3c0;</tspan></text>
<text x="270.30" y="654.60" font-size="10" text-anchor="middle" fill="#1a1a1a" stroke="#1a1a1a" stroke-width="0.18" font-family="Liberation Sans" >2<tspan font-family="Liberation Serif" font-style="italic">&#x3c0;</tspan></text>
<text x="138.90" y="667.60" font-size="13" text-anchor="start" fill="#1a1a1a" stroke="#1a1a1a" stroke-width="0.18" font-family="Liberation Sans" ><tspan font-style="italic">&#x3c6;</tspan></text>
<text x="150.45" y="667.60" font-size="11.6" text-anchor="start" fill="#1a1a1a" stroke="#1a1a1a" stroke-width="0.18" font-family="Liberation Sans" textLength="24.90" lengthAdjust="spacingAndGlyphs" >(rad)</text>
<text transform="translate(16.80,586.60) rotate(-90)" x="0" y="0" font-size="12.5" fill="#1a1a1a" stroke="#1a1a1a" stroke-width="0.18" font-family="Liberation Sans" textLength="39.00" lengthAdjust="spacingAndGlyphs" >lifetime</text>
<text transform="translate(16.80,545.60) rotate(-90)" x="0" y="0" font-size="12.5" fill="#1a1a1a" stroke="#1a1a1a" stroke-width="0.18" font-family="Liberation Sans" >/</text>
<text transform="translate(16.80,537.40) rotate(-90)" x="0" y="0" font-size="12.5" fill="#1a1a1a" stroke="#1a1a1a" stroke-width="0.18" font-family="Liberation Sans" ><tspan font-family="Liberation Serif" font-style="italic">γ</tspan><tspan dy="3.2" font-size="9">0</tspan><tspan dy="-3.2"></tspan></text>
<line x1="330.50" y1="642.30" x2="332.50" y2="642.30" stroke="#666" stroke-width="0.9" />
<line x1="555.00" y1="642.30" x2="557.00" y2="642.30" stroke="#666" stroke-width="0.9" />
<text x="326.30" y="646.30" font-size="10" text-anchor="end" fill="#1a1a1a" stroke="#1a1a1a" stroke-width="0.18" font-family="Liberation Sans" >0.5</text>
<line x1="330.50" y1="607.16" x2="332.50" y2="607.16" stroke="#666" stroke-width="0.9" />
<line x1="555.00" y1="607.16" x2="557.00" y2="607.16" stroke="#666" stroke-width="0.9" />
<text x="326.30" y="611.16" font-size="10" text-anchor="end" fill="#1a1a1a" stroke="#1a1a1a" stroke-width="0.18" font-family="Liberation Sans" >0.6</text>
<line x1="330.50" y1="572.02" x2="332.50" y2="572.02" stroke="#666" stroke-width="0.9" />
<line x1="555.00" y1="572.02" x2="557.00" y2="572.02" stroke="#666" stroke-width="0.9" />
<text x="326.30" y="576.02" font-size="10" text-anchor="end" fill="#1a1a1a" stroke="#1a1a1a" stroke-width="0.18" font-family="Liberation Sans" >0.7</text>
<line x1="330.50" y1="536.88" x2="332.50" y2="536.88" stroke="#666" stroke-width="0.9" />
<line x1="555.00" y1="536.88" x2="557.00" y2="536.88" stroke="#666" stroke-width="0.9" />
<text x="326.30" y="540.88" font-size="10" text-anchor="end" fill="#1a1a1a" stroke="#1a1a1a" stroke-width="0.18" font-family="Liberation Sans" >0.8</text>
<line x1="330.50" y1="501.74" x2="332.50" y2="501.74" stroke="#666" stroke-width="0.9" />
<line x1="555.00" y1="501.74" x2="557.00" y2="501.74" stroke="#666" stroke-width="0.9" />
<text x="326.30" y="505.74" font-size="10" text-anchor="end" fill="#1a1a1a" stroke="#1a1a1a" stroke-width="0.18" font-family="Liberation Sans" >0.9</text>
<line x1="330.50" y1="466.60" x2="332.50" y2="466.60" stroke="#666" stroke-width="0.9" />
<line x1="555.00" y1="466.60" x2="557.00" y2="466.60" stroke="#666" stroke-width="0.9" />
<text x="326.30" y="470.60" font-size="10" text-anchor="end" fill="#1a1a1a" stroke="#1a1a1a" stroke-width="0.18" font-family="Liberation Sans" >1.0</text>
<line x1="330.50" y1="642.30" x2="330.50" y2="640.30" stroke="#666" stroke-width="0.8" />
<line x1="330.50" y1="466.60" x2="330.50" y2="468.60" stroke="#666" stroke-width="0.8" />
<line x1="387.12" y1="642.30" x2="387.12" y2="640.30" stroke="#666" stroke-width="0.8" />
<line x1="387.12" y1="466.60" x2="387.12" y2="468.60" stroke="#666" stroke-width="0.8" />
<line x1="443.75" y1="642.30" x2="443.75" y2="640.30" stroke="#666" stroke-width="0.8" />
<line x1="443.75" y1="466.60" x2="443.75" y2="468.60" stroke="#666" stroke-width="0.8" />
<line x1="500.38" y1="642.30" x2="500.38" y2="640.30" stroke="#666" stroke-width="0.8" />
<line x1="500.38" y1="466.60" x2="500.38" y2="468.60" stroke="#666" stroke-width="0.8" />
<line x1="557.00" y1="642.30" x2="557.00" y2="640.30" stroke="#666" stroke-width="0.8" />
<line x1="557.00" y1="466.60" x2="557.00" y2="468.60" stroke="#666" stroke-width="0.8" />
<polyline points="330.50,466.60 330.61,467.33 330.73,469.45 330.84,472.73 330.95,476.88 331.07,481.58 331.18,486.54 331.29,491.56 331.41,496.48 331.52,501.19 331.63,505.63 331.75,509.78 331.86,513.63 331.97,517.20 332.09,520.49 332.20,523.52 332.31,526.32 332.43,528.90 332.54,531.28 332.65,533.48 332.76,535.53 332.88,537.42 332.99,539.19 333.10,540.83 333.22,542.36 333.33,543.79 333.44,545.13 333.56,546.39 333.67,547.57 333.78,548.68 333.90,549.73 334.01,550.72 334.12,551.66 334.24,552.55 334.35,553.39 334.46,554.19 334.58,554.95 334.69,555.67 334.80,556.36 334.92,557.01 335.03,557.64 335.14,558.24 335.26,558.82 335.37,559.37 335.48,559.89 335.60,560.40 335.71,560.88 335.82,561.35 335.94,561.80 336.05,562.23 336.16,562.65 336.28,563.05 336.39,563.44 336.50,563.82 336.62,564.18 336.73,564.53 336.84,564.87 336.96,565.20 337.07,565.51 337.18,565.82 337.30,566.12 337.41,566.41 337.52,566.69 337.63,566.96 337.75,567.23 337.86,567.49 337.97,567.74 338.09,567.98 338.20,568.22 338.31,568.45 338.43,568.67 338.54,568.89 338.65,569.11 338.77,569.32 338.88,569.52 338.99,569.72 339.11,569.91 339.22,570.10 339.33,570.29 339.45,570.47 339.56,570.64 339.67,570.82 339.79,570.98 339.90,571.15 340.01,571.31 340.13,571.47 340.24,571.62 340.35,571.78 340.47,571.92 340.58,572.07 340.69,572.21 340.81,572.35 340.92,572.49 341.03,572.62 341.15,572.75 341.26,572.88 341.37,573.01 341.49,573.14 341.60,573.26 341.71,573.38 341.82,573.50 341.94,573.61 342.05,573.72 342.16,573.84 342.28,573.95 342.39,574.05 342.50,574.16 342.62,574.26 342.73,574.37 342.84,574.47 342.96,574.57 343.07,574.66 343.18,574.76 343.30,574.85 343.41,574.95 343.52,575.04 343.64,575.13 343.75,575.22 343.86,575.30 343.98,575.39 344.09,575.47 344.20,575.56 344.32,575.64 344.43,575.72 344.54,575.80 344.66,575.87 344.77,575.95 344.88,576.03 345.00,576.10 345.11,576.18 345.22,576.25 345.34,576.32 345.45,576.39 345.56,576.46 345.68,576.53 345.79,576.60 345.90,576.66 346.02,576.73 346.13,576.79 346.24,576.86 346.36,576.92 346.47,576.98 346.58,577.04 346.69,577.10 346.81,577.16 346.92,577.22 347.03,577.28 347.15,577.34 347.26,577.39 347.37,577.45 347.49,577.50 347.60,577.56 347.71,577.61 347.83,577.66 347.94,577.72 348.05,577.77 348.17,577.82 348.28,577.87 348.39,577.92 348.51,577.97 348.62,578.01 348.73,578.06 348.85,578.11 348.96,578.15 349.07,578.20 349.19,578.24 349.30,578.29 349.41,578.33 349.53,578.38 349.64,578.42 349.75,578.46 349.87,578.50 349.98,578.54 350.09,578.58 350.21,578.62 350.32,578.66 350.43,578.70 350.55,578.74 350.66,578.78 350.77,578.82 350.88,578.85 351.00,578.89 351.11,578.93 351.22,578.96 351.34,579.00 351.45,579.03 351.56,579.07 351.68,579.10 351.79,579.14 351.90,579.17 352.02,579.20 352.13,579.23 352.24,579.27 352.36,579.30 352.47,579.33 352.58,579.36 352.70,579.39 352.81,579.42 352.92,579.45 353.04,579.48 353.15,579.51 353.26,579.53 353.38,579.56 353.49,579.59 353.60,579.62 353.72,579.64 353.83,579.67 353.94,579.70 354.06,579.72 354.17,579.75 354.28,579.77 354.40,579.80 354.51,579.82 354.62,579.85 354.74,579.87 354.85,579.90 354.96,579.92 355.08,579.94 355.19,579.97 355.30,579.99 355.42,580.01 355.53,580.03 355.64,580.05 355.75,580.08 355.87,580.10 355.98,580.12 356.09,580.14 356.21,580.16 356.32,580.18 356.43,580.20 356.55,580.22 356.66,580.24 356.77,580.26 356.89,580.27 357.00,580.29 357.11,580.31 357.23,580.33 357.34,580.35 357.45,580.36 357.57,580.38 357.68,580.40 357.79,580.42 357.91,580.43 358.02,580.45 358.13,580.47 358.25,580.48 358.36,580.50 358.47,580.51 358.59,580.53 358.70,580.54 358.81,580.56 358.93,580.57 359.04,580.59 359.15,580.60 359.27,580.62 359.38,580.63 359.49,580.64 359.61,580.66 359.72,580.67 359.83,580.68 359.94,580.70 360.06,580.71 360.17,580.72 360.28,580.73 360.40,580.75 360.51,580.76 360.62,580.77 360.74,580.78 360.85,580.79 360.96,580.81 361.08,580.82 361.19,580.83 361.30,580.84 361.42,580.85 361.53,580.86 361.64,580.87 361.76,580.88 361.87,580.89 361.98,580.90 362.10,580.91 362.21,580.92 362.32,580.93 362.44,580.94 362.55,580.95 362.66,580.96 362.78,580.97 362.89,580.98 363.00,580.99 363.12,580.99 363.23,581.00 363.34,581.01 363.46,581.02 363.57,581.03 363.68,581.04 363.80,581.04 363.91,581.05 364.02,581.06 364.14,581.07 364.25,581.08 364.36,581.08 364.48,581.09 364.59,581.10 364.70,581.10 364.81,581.11 364.93,581.12 365.04,581.12 365.15,581.13 365.27,581.14 365.38,581.14 365.49,581.15 365.61,581.16 365.72,581.16 365.83,581.17 365.95,581.17 366.06,581.18 366.17,581.19 366.29,581.19 366.40,581.20 366.51,581.20 366.63,581.21 366.74,581.21 366.85,581.22 366.97,581.22 367.08,581.23 367.19,581.23 367.31,581.24 367.42,581.24 367.53,581.25 367.65,581.25 367.76,581.26 367.87,581.26 367.99,581.27 368.10,581.27 368.21,581.28 368.33,581.28 368.44,581.28 368.55,581.29 368.67,581.29 368.78,581.30 368.89,581.30 369.00,581.30 369.12,581.31 369.23,581.31 369.34,581.32 369.46,581.32 369.57,581.32 369.68,581.33 369.80,581.33 369.91,581.33 370.02,581.34 370.14,581.34 370.25,581.34 370.36,581.35 370.48,581.35 370.59,581.35 370.70,581.35 370.82,581.36 370.93,581.36 371.04,581.36 371.16,581.37 371.27,581.37 371.38,581.37 371.50,581.37 371.61,581.38 371.72,581.38 371.84,581.38 371.95,581.38 372.06,581.39 372.18,581.39 372.29,581.39 372.40,581.39 372.52,581.40 372.63,581.40 372.74,581.40 372.86,581.40 372.97,581.40 373.08,581.41 373.20,581.41 373.31,581.41 373.42,581.41 373.54,581.41 373.65,581.42 373.76,581.42 373.87,581.42 373.99,581.42 374.10,581.42 374.21,581.43 374.33,581.43 374.44,581.43 374.55,581.43 374.67,581.43 374.78,581.43 374.89,581.43 375.01,581.44 375.12,581.44 375.23,581.44 375.35,581.44 375.46,581.44 375.57,581.44 375.69,581.44 375.80,581.45 375.91,581.45 376.03,581.45 376.14,581.45 376.25,581.45 376.37,581.45 376.48,581.45 376.59,581.45 376.71,581.46 376.82,581.46 376.93,581.46 377.05,581.46 377.16,581.46 377.27,581.46 377.39,581.46 377.50,581.46 377.61,581.46 377.73,581.46 377.84,581.47 377.95,581.47 378.06,581.47 378.18,581.47 378.29,581.47 378.40,581.47 378.52,581.47 378.63,581.47 378.74,581.47 378.86,581.47 378.97,581.47 379.08,581.47 379.20,581.48 379.31,581.48 379.42,581.48 379.54,581.48 379.65,581.48 379.76,581.48 379.88,581.48 379.99,581.48 380.10,581.48 380.22,581.48 380.33,581.48 380.44,581.48 380.56,581.48 380.67,581.48 380.78,581.48 380.90,581.48 381.01,581.49 381.12,581.49 381.24,581.49 381.35,581.49 381.46,581.49 381.58,581.49 381.69,581.49 381.80,581.49 381.92,581.49 382.03,581.49 382.14,581.49 382.26,581.49 382.37,581.49 382.48,581.49 382.60,581.49 382.71,581.49 382.82,581.49 382.93,581.49 383.05,581.49 383.16,581.49 383.27,581.49 383.39,581.49 383.50,581.49 383.61,581.49 383.73,581.50 383.84,581.50 383.95,581.50 384.07,581.50 384.18,581.50 384.29,581.50 384.41,581.50 384.52,581.50 384.63,581.50 384.75,581.50 384.86,581.50 384.97,581.50 385.09,581.50 385.20,581.50 385.31,581.50 385.43,581.50 385.54,581.50 385.65,581.50 385.77,581.50 385.88,581.50 385.99,581.50 386.11,581.50 386.22,581.50 386.33,581.50 386.45,581.50 386.56,581.50 386.67,581.50 386.79,581.50 386.90,581.50 387.01,581.50 387.12,581.50 387.24,581.50 387.35,581.50 387.46,581.50 387.58,581.50 387.69,581.50 387.80,581.50 387.92,581.50 388.03,581.50 388.14,581.50 388.26,581.50 388.37,581.50 388.48,581.50 388.60,581.50 388.71,581.50 388.82,581.50 388.94,581.50 389.05,581.50 389.16,581.50 389.28,581.50 389.39,581.50 389.50,581.50 389.62,581.50 389.73,581.50 389.84,581.50 389.96,581.50 390.07,581.50 390.18,581.50 390.30,581.50 390.41,581.50 390.52,581.50 390.64,581.49 390.75,581.49 390.86,581.49 390.98,581.49 391.09,581.49 391.20,581.49 391.32,581.49 391.43,581.49 391.54,581.49 391.65,581.49 391.77,581.49 391.88,581.49 391.99,581.49 392.11,581.49 392.22,581.49 392.33,581.49 392.45,581.49 392.56,581.49 392.67,581.49 392.79,581.49 392.90,581.49 393.01,581.49 393.13,581.49 393.24,581.49 393.35,581.48 393.47,581.48 393.58,581.48 393.69,581.48 393.81,581.48 393.92,581.48 394.03,581.48 394.15,581.48 394.26,581.48 394.37,581.48 394.49,581.48 394.60,581.48 394.71,581.48 394.83,581.48 394.94,581.48 395.05,581.48 395.17,581.47 395.28,581.47 395.39,581.47 395.51,581.47 395.62,581.47 395.73,581.47 395.85,581.47 395.96,581.47 396.07,581.47 396.19,581.47 396.30,581.47 396.41,581.47 396.52,581.46 396.64,581.46 396.75,581.46 396.86,581.46 396.98,581.46 397.09,581.46 397.20,581.46 397.32,581.46 397.43,581.46 397.54,581.46 397.66,581.45 397.77,581.45 397.88,581.45 398.00,581.45 398.11,581.45 398.22,581.45 398.34,581.45 398.45,581.45 398.56,581.44 398.68,581.44 398.79,581.44 398.90,581.44 399.02,581.44 399.13,581.44 399.24,581.44 399.36,581.43 399.47,581.43 399.58,581.43 399.70,581.43 399.81,581.43 399.92,581.43 400.04,581.43 400.15,581.42 400.26,581.42 400.38,581.42 400.49,581.42 400.60,581.42 400.72,581.41 400.83,581.41 400.94,581.41 401.05,581.41 401.17,581.41 401.28,581.40 401.39,581.40 401.51,581.40 401.62,581.40 401.73,581.40 401.85,581.39 401.96,581.39 402.07,581.39 402.19,581.39 402.30,581.38 402.41,581.38 402.53,581.38 402.64,581.38 402.75,581.37 402.87,581.37 402.98,581.37 403.09,581.37 403.21,581.36 403.32,581.36 403.43,581.36 403.55,581.35 403.66,581.35 403.77,581.35 403.89,581.35 404.00,581.34 404.11,581.34 404.23,581.34 404.34,581.33 404.45,581.33 404.57,581.33 404.68,581.32 404.79,581.32 404.91,581.32 405.02,581.31 405.13,581.31 405.25,581.30 405.36,581.30 405.47,581.30 405.58,581.29 405.70,581.29 405.81,581.28 405.92,581.28 406.04,581.28 406.15,581.27 406.26,581.27 406.38,581.26 406.49,581.26 406.60,581.25 406.72,581.25 406.83,581.24 406.94,581.24 407.06,581.23 407.17,581.23 407.28,581.22 407.40,581.22 407.51,581.21 407.62,581.21 407.74,581.20 407.85,581.20 407.96,581.19 408.08,581.19 408.19,581.18 408.30,581.17 408.42,581.17 408.53,581.16 408.64,581.16 408.76,581.15 408.87,581.14 408.98,581.14 409.10,581.13 409.21,581.12 409.32,581.12 409.44,581.11 409.55,581.10 409.66,581.10 409.77,581.09 409.89,581.08 410.00,581.08 410.11,581.07 410.23,581.06 410.34,581.05 410.45,581.04 410.57,581.04 410.68,581.03 410.79,581.02 410.91,581.01 411.02,581.00 411.13,580.99 411.25,580.99 411.36,580.98 411.47,580.97 411.59,580.96 411.70,580.95 411.81,580.94 411.93,580.93 412.04,580.92 412.15,580.91 412.27,580.90 412.38,580.89 412.49,580.88 412.61,580.87 412.72,580.86 412.83,580.85 412.95,580.84 413.06,580.83 413.17,580.82 413.29,580.81 413.40,580.79 413.51,580.78 413.63,580.77 413.74,580.76 413.85,580.75 413.97,580.73 414.08,580.72 414.19,580.71 414.31,580.70 414.42,580.68 414.53,580.67 414.64,580.66 414.76,580.64 414.87,580.63 414.98,580.62 415.10,580.60 415.21,580.59 415.32,580.57 415.44,580.56 415.55,580.54 415.66,580.53 415.78,580.51 415.89,580.50 416.00,580.48 416.12,580.47 416.23,580.45 416.34,580.43 416.46,580.42 416.57,580.40 416.68,580.38 416.80,580.36 416.91,580.35 417.02,580.33 417.14,580.31 417.25,580.29 417.36,580.27 417.48,580.26 417.59,580.24 417.70,580.22 417.82,580.20 417.93,580.18 418.04,580.16 418.16,580.14 418.27,580.12 418.38,580.10 418.50,580.08 418.61,580.05 418.72,580.03 418.84,580.01 418.95,579.99 419.06,579.97 419.17,579.94 419.29,579.92 419.40,579.90 419.51,579.87 419.63,579.85 419.74,579.82 419.85,579.80 419.97,579.77 420.08,579.75 420.19,579.72 420.31,579.70 420.42,579.67 420.53,579.64 420.65,579.62 420.76,579.59 420.87,579.56 420.99,579.53 421.10,579.51 421.21,579.48 421.33,579.45 421.44,579.42 421.55,579.39 421.67,579.36 421.78,579.33 421.89,579.30 422.01,579.27 422.12,579.23 422.23,579.20 422.35,579.17 422.46,579.14 422.57,579.10 422.69,579.07 422.80,579.03 422.91,579.00 423.03,578.96 423.14,578.93 423.25,578.89 423.37,578.85 423.48,578.82 423.59,578.78 423.70,578.74 423.82,578.70 423.93,578.66 424.04,578.62 424.16,578.58 424.27,578.54 424.38,578.50 424.50,578.46 424.61,578.42 424.72,578.38 424.84,578.33 424.95,578.29 425.06,578.24 425.18,578.20 425.29,578.15 425.40,578.11 425.52,578.06 425.63,578.01 425.74,577.97 425.86,577.92 425.97,577.87 426.08,577.82 426.20,577.77 426.31,577.72 426.42,577.66 426.54,577.61 426.65,577.56 426.76,577.50 426.88,577.45 426.99,577.39 427.10,577.34 427.22,577.28 427.33,577.22 427.44,577.16 427.56,577.10 427.67,577.04 427.78,576.98 427.89,576.92 428.01,576.86 428.12,576.79 428.23,576.73 428.35,576.66 428.46,576.60 428.57,576.53 428.69,576.46 428.80,576.39 428.91,576.32 429.03,576.25 429.14,576.18 429.25,576.10 429.37,576.03 429.48,575.95 429.59,575.87 429.71,575.80 429.82,575.72 429.93,575.64 430.05,575.56 430.16,575.47 430.27,575.39 430.39,575.30 430.50,575.22 430.61,575.13 430.73,575.04 430.84,574.95 430.95,574.85 431.07,574.76 431.18,574.66 431.29,574.57 431.41,574.47 431.52,574.37 431.63,574.26 431.75,574.16 431.86,574.05 431.97,573.95 432.09,573.84 432.20,573.72 432.31,573.61 432.43,573.50 432.54,573.38 432.65,573.26 432.76,573.14 432.88,573.01 432.99,572.88 433.10,572.75 433.22,572.62 433.33,572.49 433.44,572.35 433.56,572.21 433.67,572.07 433.78,571.92 433.90,571.78 434.01,571.62 434.12,571.47 434.24,571.31 434.35,571.15 434.46,570.98 434.58,570.82 434.69,570.64 434.80,570.47 434.92,570.29 435.03,570.10 435.14,569.91 435.26,569.72 435.37,569.52 435.48,569.32 435.60,569.11 435.71,568.89 435.82,568.67 435.94,568.45 436.05,568.22 436.16,567.98 436.28,567.74 436.39,567.49 436.50,567.23 436.62,566.96 436.73,566.69 436.84,566.41 436.96,566.12 437.07,565.82 437.18,565.51 437.29,565.20 437.41,564.87 437.52,564.53 437.63,564.18 437.75,563.82 437.86,563.44 437.97,563.05 438.09,562.65 438.20,562.23 438.31,561.80 438.43,561.35 438.54,560.88 438.65,560.40 438.77,559.89 438.88,559.37 438.99,558.82 439.11,558.24 439.22,557.64 439.33,557.01 439.45,556.36 439.56,555.67 439.67,554.95 439.79,554.19 439.90,553.39 440.01,552.55 440.13,551.66 440.24,550.72 440.35,549.73 440.47,548.68 440.58,547.57 440.69,546.39 440.81,545.13 440.92,543.79 441.03,542.36 441.15,540.83 441.26,539.19 441.37,537.42 441.49,535.53 441.60,533.48 441.71,531.28 441.82,528.90 441.94,526.32 442.05,523.52 442.16,520.49 442.28,517.20 442.39,513.63 442.50,509.78 442.62,505.63 442.73,501.19 442.84,496.48 442.96,491.56 443.07,486.54 443.18,481.58 443.30,476.88 443.41,472.73 443.52,469.45 443.64,467.33 443.75,466.60 443.86,467.33 443.98,469.45 444.09,472.73 444.20,476.88 444.32,481.58 444.43,486.54 444.54,491.56 444.66,496.48 444.77,501.19 444.88,505.63 445.00,509.78 445.11,513.63 445.22,517.20 445.34,520.49 445.45,523.52 445.56,526.32 445.68,528.90 445.79,531.28 445.90,533.48 446.01,535.53 446.13,537.42 446.24,539.19 446.35,540.83 446.47,542.36 446.58,543.79 446.69,545.13 446.81,546.39 446.92,547.57 447.03,548.68 447.15,549.73 447.26,550.72 447.37,551.66 447.49,552.55 447.60,553.39 447.71,554.19 447.83,554.95 447.94,555.67 448.05,556.36 448.17,557.01 448.28,557.64 448.39,558.24 448.51,558.82 448.62,559.37 448.73,559.89 448.85,560.40 448.96,560.88 449.07,561.35 449.19,561.80 449.30,562.23 449.41,562.65 449.53,563.05 449.64,563.44 449.75,563.82 449.87,564.18 449.98,564.53 450.09,564.87 450.21,565.20 450.32,565.51 450.43,565.82 450.55,566.12 450.66,566.41 450.77,566.69 450.88,566.96 451.00,567.23 451.11,567.49 451.22,567.74 451.34,567.98 451.45,568.22 451.56,568.45 451.68,568.67 451.79,568.89 451.90,569.11 452.02,569.32 452.13,569.52 452.24,569.72 452.36,569.91 452.47,570.10 452.58,570.29 452.70,570.47 452.81,570.64 452.92,570.82 453.04,570.98 453.15,571.15 453.26,571.31 453.38,571.47 453.49,571.62 453.60,571.78 453.72,571.92 453.83,572.07 453.94,572.21 454.06,572.35 454.17,572.49 454.28,572.62 454.40,572.75 454.51,572.88 454.62,573.01 454.74,573.14 454.85,573.26 454.96,573.38 455.08,573.50 455.19,573.61 455.30,573.72 455.41,573.84 455.53,573.95 455.64,574.05 455.75,574.16 455.87,574.26 455.98,574.37 456.09,574.47 456.21,574.57 456.32,574.66 456.43,574.76 456.55,574.85 456.66,574.95 456.77,575.04 456.89,575.13 457.00,575.22 457.11,575.30 457.23,575.39 457.34,575.47 457.45,575.56 457.57,575.64 457.68,575.72 457.79,575.80 457.91,575.87 458.02,575.95 458.13,576.03 458.25,576.10 458.36,576.18 458.47,576.25 458.59,576.32 458.70,576.39 458.81,576.46 458.93,576.53 459.04,576.60 459.15,576.66 459.27,576.73 459.38,576.79 459.49,576.86 459.61,576.92 459.72,576.98 459.83,577.04 459.94,577.10 460.06,577.16 460.17,577.22 460.28,577.28 460.40,577.34 460.51,577.39 460.62,577.45 460.74,577.50 460.85,577.56 460.96,577.61 461.08,577.66 461.19,577.72 461.30,577.77 461.42,577.82 461.53,577.87 461.64,577.92 461.76,577.97 461.87,578.01 461.98,578.06 462.10,578.11 462.21,578.15 462.32,578.20 462.44,578.24 462.55,578.29 462.66,578.33 462.78,578.38 462.89,578.42 463.00,578.46 463.12,578.50 463.23,578.54 463.34,578.58 463.46,578.62 463.57,578.66 463.68,578.70 463.80,578.74 463.91,578.78 464.02,578.82 464.13,578.85 464.25,578.89 464.36,578.93 464.47,578.96 464.59,579.00 464.70,579.03 464.81,579.07 464.93,579.10 465.04,579.14 465.15,579.17 465.27,579.20 465.38,579.23 465.49,579.27 465.61,579.30 465.72,579.33 465.83,579.36 465.95,579.39 466.06,579.42 466.17,579.45 466.29,579.48 466.40,579.51 466.51,579.53 466.63,579.56 466.74,579.59 466.85,579.62 466.97,579.64 467.08,579.67 467.19,579.70 467.31,579.72 467.42,579.75 467.53,579.77 467.65,579.80 467.76,579.82 467.87,579.85 467.99,579.87 468.10,579.90 468.21,579.92 468.33,579.94 468.44,579.97 468.55,579.99 468.66,580.01 468.78,580.03 468.89,580.05 469.00,580.08 469.12,580.10 469.23,580.12 469.34,580.14 469.46,580.16 469.57,580.18 469.68,580.20 469.80,580.22 469.91,580.24 470.02,580.26 470.14,580.27 470.25,580.29 470.36,580.31 470.48,580.33 470.59,580.35 470.70,580.36 470.82,580.38 470.93,580.40 471.04,580.42 471.16,580.43 471.27,580.45 471.38,580.47 471.50,580.48 471.61,580.50 471.72,580.51 471.84,580.53 471.95,580.54 472.06,580.56 472.18,580.57 472.29,580.59 472.40,580.60 472.52,580.62 472.63,580.63 472.74,580.64 472.86,580.66 472.97,580.67 473.08,580.68 473.19,580.70 473.31,580.71 473.42,580.72 473.53,580.73 473.65,580.75 473.76,580.76 473.87,580.77 473.99,580.78 474.10,580.79 474.21,580.81 474.33,580.82 474.44,580.83 474.55,580.84 474.67,580.85 474.78,580.86 474.89,580.87 475.01,580.88 475.12,580.89 475.23,580.90 475.35,580.91 475.46,580.92 475.57,580.93 475.69,580.94 475.80,580.95 475.91,580.96 476.03,580.97 476.14,580.98 476.25,580.99 476.37,580.99 476.48,581.00 476.59,581.01 476.71,581.02 476.82,581.03 476.93,581.04 477.05,581.04 477.16,581.05 477.27,581.06 477.39,581.07 477.50,581.08 477.61,581.08 477.73,581.09 477.84,581.10 477.95,581.10 478.06,581.11 478.18,581.12 478.29,581.12 478.40,581.13 478.52,581.14 478.63,581.14 478.74,581.15 478.86,581.16 478.97,581.16 479.08,581.17 479.20,581.17 479.31,581.18 479.42,581.19 479.54,581.19 479.65,581.20 479.76,581.20 479.88,581.21 479.99,581.21 480.10,581.22 480.22,581.22 480.33,581.23 480.44,581.23 480.56,581.24 480.67,581.24 480.78,581.25 480.90,581.25 481.01,581.26 481.12,581.26 481.24,581.27 481.35,581.27 481.46,581.28 481.58,581.28 481.69,581.28 481.80,581.29 481.92,581.29 482.03,581.30 482.14,581.30 482.25,581.30 482.37,581.31 482.48,581.31 482.59,581.32 482.71,581.32 482.82,581.32 482.93,581.33 483.05,581.33 483.16,581.33 483.27,581.34 483.39,581.34 483.50,581.34 483.61,581.35 483.73,581.35 483.84,581.35 483.95,581.35 484.07,581.36 484.18,581.36 484.29,581.36 484.41,581.37 484.52,581.37 484.63,581.37 484.75,581.37 484.86,581.38 484.97,581.38 485.09,581.38 485.20,581.38 485.31,581.39 485.43,581.39 485.54,581.39 485.65,581.39 485.77,581.40 485.88,581.40 485.99,581.40 486.11,581.40 486.22,581.40 486.33,581.41 486.45,581.41 486.56,581.41 486.67,581.41 486.79,581.41 486.90,581.42 487.01,581.42 487.12,581.42 487.24,581.42 487.35,581.42 487.46,581.43 487.58,581.43 487.69,581.43 487.80,581.43 487.92,581.43 488.03,581.43 488.14,581.43 488.26,581.44 488.37,581.44 488.48,581.44 488.60,581.44 488.71,581.44 488.82,581.44 488.94,581.44 489.05,581.45 489.16,581.45 489.28,581.45 489.39,581.45 489.50,581.45 489.62,581.45 489.73,581.45 489.84,581.45 489.96,581.46 490.07,581.46 490.18,581.46 490.30,581.46 490.41,581.46 490.52,581.46 490.64,581.46 490.75,581.46 490.86,581.46 490.98,581.46 491.09,581.47 491.20,581.47 491.31,581.47 491.43,581.47 491.54,581.47 491.65,581.47 491.77,581.47 491.88,581.47 491.99,581.47 492.11,581.47 492.22,581.47 492.33,581.47 492.45,581.48 492.56,581.48 492.67,581.48 492.79,581.48 492.90,581.48 493.01,581.48 493.13,581.48 493.24,581.48 493.35,581.48 493.47,581.48 493.58,581.48 493.69,581.48 493.81,581.48 493.92,581.48 494.03,581.48 494.15,581.48 494.26,581.49 494.37,581.49 494.49,581.49 494.60,581.49 494.71,581.49 494.83,581.49 494.94,581.49 495.05,581.49 495.17,581.49 495.28,581.49 495.39,581.49 495.51,581.49 495.62,581.49 495.73,581.49 495.85,581.49 495.96,581.49 496.07,581.49 496.18,581.49 496.30,581.49 496.41,581.49 496.52,581.49 496.64,581.49 496.75,581.49 496.86,581.49 496.98,581.50 497.09,581.50 497.20,581.50 497.32,581.50 497.43,581.50 497.54,581.50 497.66,581.50 497.77,581.50 497.88,581.50 498.00,581.50 498.11,581.50 498.22,581.50 498.34,581.50 498.45,581.50 498.56,581.50 498.68,581.50 498.79,581.50 498.90,581.50 499.02,581.50 499.13,581.50 499.24,581.50 499.36,581.50 499.47,581.50 499.58,581.50 499.70,581.50 499.81,581.50 499.92,581.50 500.04,581.50 500.15,581.50 500.26,581.50 500.38,581.50 500.49,581.50 500.60,581.50 500.71,581.50 500.83,581.50 500.94,581.50 501.05,581.50 501.17,581.50 501.28,581.50 501.39,581.50 501.51,581.50 501.62,581.50 501.73,581.50 501.85,581.50 501.96,581.50 502.07,581.50 502.19,581.50 502.30,581.50 502.41,581.50 502.53,581.50 502.64,581.50 502.75,581.50 502.87,581.50 502.98,581.50 503.09,581.50 503.21,581.50 503.32,581.50 503.43,581.50 503.55,581.50 503.66,581.50 503.77,581.50 503.89,581.49 504.00,581.49 504.11,581.49 504.23,581.49 504.34,581.49 504.45,581.49 504.57,581.49 504.68,581.49 504.79,581.49 504.90,581.49 505.02,581.49 505.13,581.49 505.24,581.49 505.36,581.49 505.47,581.49 505.58,581.49 505.70,581.49 505.81,581.49 505.92,581.49 506.04,581.49 506.15,581.49 506.26,581.49 506.38,581.49 506.49,581.49 506.60,581.48 506.72,581.48 506.83,581.48 506.94,581.48 507.06,581.48 507.17,581.48 507.28,581.48 507.40,581.48 507.51,581.48 507.62,581.48 507.74,581.48 507.85,581.48 507.96,581.48 508.08,581.48 508.19,581.48 508.30,581.48 508.42,581.47 508.53,581.47 508.64,581.47 508.76,581.47 508.87,581.47 508.98,581.47 509.10,581.47 509.21,581.47 509.32,581.47 509.44,581.47 509.55,581.47 509.66,581.47 509.77,581.46 509.89,581.46 510.00,581.46 510.11,581.46 510.23,581.46 510.34,581.46 510.45,581.46 510.57,581.46 510.68,581.46 510.79,581.46 510.91,581.45 511.02,581.45 511.13,581.45 511.25,581.45 511.36,581.45 511.47,581.45 511.59,581.45 511.70,581.45 511.81,581.44 511.93,581.44 512.04,581.44 512.15,581.44 512.27,581.44 512.38,581.44 512.49,581.44 512.61,581.43 512.72,581.43 512.83,581.43 512.95,581.43 513.06,581.43 513.17,581.43 513.29,581.43 513.40,581.42 513.51,581.42 513.63,581.42 513.74,581.42 513.85,581.42 513.96,581.41 514.08,581.41 514.19,581.41 514.30,581.41 514.42,581.41 514.53,581.40 514.64,581.40 514.76,581.40 514.87,581.40 514.98,581.40 515.10,581.39 515.21,581.39 515.32,581.39 515.44,581.39 515.55,581.38 515.66,581.38 515.78,581.38 515.89,581.38 516.00,581.37 516.12,581.37 516.23,581.37 516.34,581.37 516.46,581.36 516.57,581.36 516.68,581.36 516.80,581.35 516.91,581.35 517.02,581.35 517.14,581.35 517.25,581.34 517.36,581.34 517.48,581.34 517.59,581.33 517.70,581.33 517.82,581.33 517.93,581.32 518.04,581.32 518.16,581.32 518.27,581.31 518.38,581.31 518.50,581.30 518.61,581.30 518.72,581.30 518.83,581.29 518.95,581.29 519.06,581.28 519.17,581.28 519.29,581.28 519.40,581.27 519.51,581.27 519.63,581.26 519.74,581.26 519.85,581.25 519.97,581.25 520.08,581.24 520.19,581.24 520.31,581.23 520.42,581.23 520.53,581.22 520.65,581.22 520.76,581.21 520.87,581.21 520.99,581.20 521.10,581.20 521.21,581.19 521.33,581.19 521.44,581.18 521.55,581.17 521.67,581.17 521.78,581.16 521.89,581.16 522.01,581.15 522.12,581.14 522.23,581.14 522.35,581.13 522.46,581.12 522.57,581.12 522.69,581.11 522.80,581.10 522.91,581.10 523.02,581.09 523.14,581.08 523.25,581.08 523.36,581.07 523.48,581.06 523.59,581.05 523.70,581.04 523.82,581.04 523.93,581.03 524.04,581.02 524.16,581.01 524.27,581.00 524.38,580.99 524.50,580.99 524.61,580.98 524.72,580.97 524.84,580.96 524.95,580.95 525.06,580.94 525.18,580.93 525.29,580.92 525.40,580.91 525.52,580.90 525.63,580.89 525.74,580.88 525.86,580.87 525.97,580.86 526.08,580.85 526.20,580.84 526.31,580.83 526.42,580.82 526.54,580.81 526.65,580.79 526.76,580.78 526.88,580.77 526.99,580.76 527.10,580.75 527.22,580.73 527.33,580.72 527.44,580.71 527.56,580.70 527.67,580.68 527.78,580.67 527.89,580.66 528.01,580.64 528.12,580.63 528.23,580.62 528.35,580.60 528.46,580.59 528.57,580.57 528.69,580.56 528.80,580.54 528.91,580.53 529.03,580.51 529.14,580.50 529.25,580.48 529.37,580.47 529.48,580.45 529.59,580.43 529.71,580.42 529.82,580.40 529.93,580.38 530.05,580.36 530.16,580.35 530.27,580.33 530.39,580.31 530.50,580.29 530.61,580.27 530.73,580.26 530.84,580.24 530.95,580.22 531.07,580.20 531.18,580.18 531.29,580.16 531.41,580.14 531.52,580.12 531.63,580.10 531.75,580.08 531.86,580.05 531.97,580.03 532.09,580.01 532.20,579.99 532.31,579.97 532.42,579.94 532.54,579.92 532.65,579.90 532.76,579.87 532.88,579.85 532.99,579.82 533.10,579.80 533.22,579.77 533.33,579.75 533.44,579.72 533.56,579.70 533.67,579.67 533.78,579.64 533.90,579.62 534.01,579.59 534.12,579.56 534.24,579.53 534.35,579.51 534.46,579.48 534.58,579.45 534.69,579.42 534.80,579.39 534.92,579.36 535.03,579.33 535.14,579.30 535.26,579.27 535.37,579.23 535.48,579.20 535.60,579.17 535.71,579.14 535.82,579.10 535.94,579.07 536.05,579.03 536.16,579.00 536.28,578.96 536.39,578.93 536.50,578.89 536.62,578.85 536.73,578.82 536.84,578.78 536.95,578.74 537.07,578.70 537.18,578.66 537.29,578.62 537.41,578.58 537.52,578.54 537.63,578.50 537.75,578.46 537.86,578.42 537.97,578.38 538.09,578.33 538.20,578.29 538.31,578.24 538.43,578.20 538.54,578.15 538.65,578.11 538.77,578.06 538.88,578.01 538.99,577.97 539.11,577.92 539.22,577.87 539.33,577.82 539.45,577.77 539.56,577.72 539.67,577.66 539.79,577.61 539.90,577.56 540.01,577.50 540.13,577.45 540.24,577.39 540.35,577.34 540.47,577.28 540.58,577.22 540.69,577.16 540.81,577.10 540.92,577.04 541.03,576.98 541.14,576.92 541.26,576.86 541.37,576.79 541.48,576.73 541.60,576.66 541.71,576.60 541.82,576.53 541.94,576.46 542.05,576.39 542.16,576.32 542.28,576.25 542.39,576.18 542.50,576.10 542.62,576.03 542.73,575.95 542.84,575.87 542.96,575.80 543.07,575.72 543.18,575.64 543.30,575.56 543.41,575.47 543.52,575.39 543.64,575.30 543.75,575.22 543.86,575.13 543.98,575.04 544.09,574.95 544.20,574.85 544.32,574.76 544.43,574.66 544.54,574.57 544.66,574.47 544.77,574.37 544.88,574.26 545.00,574.16 545.11,574.05 545.22,573.95 545.34,573.84 545.45,573.72 545.56,573.61 545.67,573.50 545.79,573.38 545.90,573.26 546.01,573.14 546.13,573.01 546.24,572.88 546.35,572.75 546.47,572.62 546.58,572.49 546.69,572.35 546.81,572.21 546.92,572.07 547.03,571.92 547.15,571.78 547.26,571.62 547.37,571.47 547.49,571.31 547.60,571.15 547.71,570.98 547.83,570.82 547.94,570.64 548.05,570.47 548.17,570.29 548.28,570.10 548.39,569.91 548.51,569.72 548.62,569.52 548.73,569.32 548.85,569.11 548.96,568.89 549.07,568.67 549.19,568.45 549.30,568.22 549.41,567.98 549.53,567.74 549.64,567.49 549.75,567.23 549.87,566.96 549.98,566.69 550.09,566.41 550.20,566.12 550.32,565.82 550.43,565.51 550.54,565.20 550.66,564.87 550.77,564.53 550.88,564.18 551.00,563.82 551.11,563.44 551.22,563.05 551.34,562.65 551.45,562.23 551.56,561.80 551.68,561.35 551.79,560.88 551.90,560.40 552.02,559.89 552.13,559.37 552.24,558.82 552.36,558.24 552.47,557.64 552.58,557.01 552.70,556.36 552.81,555.67 552.92,554.95 553.04,554.19 553.15,553.39 553.26,552.55 553.38,551.66 553.49,550.72 553.60,549.73 553.72,548.68 553.83,547.57 553.94,546.39 554.06,545.13 554.17,543.79 554.28,542.36 554.40,540.83 554.51,539.19 554.62,537.42 554.74,535.53 554.85,533.48 554.96,531.28 555.07,528.90 555.19,526.32 555.30,523.52 555.41,520.49 555.53,517.20 555.64,513.63 555.75,509.78 555.87,505.63 555.98,501.19 556.09,496.48 556.21,491.56 556.32,486.54 556.43,481.58 556.55,476.88 556.66,472.73 556.77,469.45 556.89,467.33 557.00,466.60" fill="none" stroke="#e0506f" stroke-width="2" stroke-linejoin="round" stroke-linecap="round" />
<polyline points="330.50,591.60 332.20,605.20 333.23,608.61 334.27,612.52 335.30,615.60 336.34,617.20 337.38,618.12 338.42,619.04 339.46,621.14 340.50,621.90 341.54,622.56 342.59,623.35 343.63,623.17 344.67,624.68 345.71,624.67 346.76,625.21 347.80,626.00 348.84,625.11 349.88,625.39 350.92,624.87 351.96,623.89 353.00,623.90 354.05,622.30 355.10,621.26 356.15,620.36 357.20,618.70 358.25,617.01 359.30,614.47 360.35,612.20 361.40,610.40 362.45,607.08 363.50,604.84 364.55,601.94 365.60,598.90 366.65,595.21 367.70,590.26 368.75,586.32 369.80,582.20 370.82,577.53 371.85,574.19 372.88,569.70 373.90,565.50 374.95,562.35 376.00,557.82 377.05,554.62 378.10,550.90 379.13,547.98 380.17,546.46 381.20,543.60 382.27,543.59 383.33,544.45 384.40,544.20 385.63,544.89 386.87,544.40 388.10,545.00 389.30,544.28 390.50,543.43 391.70,542.90 393.05,543.95 394.40,545.70 395.65,548.91 396.90,553.00 397.95,556.21 399.00,560.47 400.05,564.13 401.10,567.60 402.12,572.25 403.15,575.72 404.18,579.97 405.20,584.30 406.25,587.99 407.30,592.93 408.35,596.89 409.40,601.00 410.45,604.62 411.50,606.88 412.55,610.43 413.60,613.50 414.65,615.11 415.70,618.14 416.75,619.63 417.80,621.90 418.84,623.17 419.88,623.06 420.92,624.60 421.96,625.30 423.00,626.00 424.04,626.29 425.08,625.30 426.12,625.35 427.16,625.58 428.20,625.00 429.24,624.74 430.28,623.74 431.32,622.82 432.36,623.02 433.40,621.90 434.45,620.68 435.50,619.50 436.55,617.45 437.60,616.60 438.63,614.80 439.67,613.22 440.70,611.80 441.75,612.72 442.80,614.60 443.87,617.80 444.93,620.50 446.00,624.00 447.05,626.65 448.10,630.10 449.16,630.89 450.22,630.71 451.28,632.19 452.34,632.01 453.40,632.80 454.48,633.43 455.56,632.82 456.64,634.00 457.72,633.68 458.80,634.10 459.88,634.80 460.96,634.16 462.04,635.31 463.12,635.13 464.20,635.50 465.26,635.42 466.32,633.95 467.38,634.14 468.44,633.42 469.50,632.80 470.58,631.42 471.66,628.63 472.74,627.31 473.82,625.45 474.90,623.40 475.98,621.22 477.06,617.67 478.14,615.44 479.22,612.92 480.30,610.00 481.36,605.64 482.42,600.04 483.48,595.42 484.54,591.01 485.60,585.80 486.68,580.31 487.76,573.85 488.84,567.92 489.92,562.62 491.00,556.30 492.00,553.89 493.00,551.01 494.00,547.76 495.00,545.50 496.35,535.63 497.70,526.70 499.60,494.50 500.70,478.40 502.30,499.90 503.35,515.15 504.40,529.40 505.75,541.87 507.10,553.60 508.10,559.63 509.10,566.09 510.10,571.26 511.10,577.80 512.12,582.58 513.15,586.73 514.18,592.31 515.20,596.50 516.26,600.74 517.32,605.47 518.38,608.90 519.44,614.09 520.50,618.00 521.58,620.20 522.66,623.29 523.74,624.77 524.82,628.01 525.90,630.10 526.98,630.74 528.06,632.42 529.14,632.39 530.22,634.05 531.30,634.70 532.36,634.22 533.42,634.96 534.48,633.94 535.54,634.34 536.60,634.10 537.68,633.39 538.76,634.07 539.84,633.00 540.92,633.08 542.00,632.80 543.08,631.94 544.16,632.51 545.24,631.40 546.32,631.23 547.40,630.90 548.40,629.88 549.40,630.17 550.40,629.40 551.40,628.80 552.75,619.83 554.10,610.00 555.55,600.98 557.00,591.20" fill="none" stroke="#2e517b" stroke-width="1.9" stroke-linejoin="round" stroke-linecap="round" />
<rect x="330.50" y="466.60" width="226.50" height="175.70" fill="none" stroke="#9a9a9a" stroke-width="1.1"/>
<text x="558.25" y="456.90" font-size="13.2" text-anchor="start" fill="#1a1a1a" stroke="#1a1a1a" stroke-width="0.18" font-family="Liberation Sans" textLength="12.50" lengthAdjust="spacingAndGlyphs" >(f)</text>
<text x="330.50" y="654.60" font-size="10" text-anchor="middle" fill="#1a1a1a" stroke="#1a1a1a" stroke-width="0.18" font-family="Liberation Sans" >0</text>
<text x="387.12" y="654.60" font-size="10" text-anchor="middle" fill="#1a1a1a" stroke="#1a1a1a" stroke-width="0.18" font-family="Liberation Sans" >0.5<tspan font-family="Liberation Serif" font-style="italic">&#x3c0;</tspan></text>
<text x="443.75" y="654.60" font-size="10" text-anchor="middle" fill="#1a1a1a" stroke="#1a1a1a" stroke-width="0.18" font-family="Liberation Sans" ><tspan font-family="Liberation Serif" font-style="italic">&#x3c0;</tspan></text>
<text x="500.38" y="654.60" font-size="10" text-anchor="middle" fill="#1a1a1a" stroke="#1a1a1a" stroke-width="0.18" font-family="Liberation Sans" >1.5<tspan font-family="Liberation Serif" font-style="italic">&#x3c0;</tspan></text>
<text x="557.00" y="654.60" font-size="10" text-anchor="middle" fill="#1a1a1a" stroke="#1a1a1a" stroke-width="0.18" font-family="Liberation Sans" >2<tspan font-family="Liberation Serif" font-style="italic">&#x3c0;</tspan></text>
<text x="425.60" y="667.60" font-size="13" text-anchor="start" fill="#1a1a1a" stroke="#1a1a1a" stroke-width="0.18" font-family="Liberation Sans" ><tspan font-style="italic">&#x3c6;</tspan></text>
<text x="437.15" y="667.60" font-size="11.6" text-anchor="start" fill="#1a1a1a" stroke="#1a1a1a" stroke-width="0.18" font-family="Liberation Sans" textLength="24.90" lengthAdjust="spacingAndGlyphs" >(rad)</text>
<text transform="translate(306.20,578.80) rotate(-90)" x="0" y="0" font-size="11.8" fill="#1a1a1a" stroke="#1a1a1a" stroke-width="0.18" font-family="Liberation Sans" textLength="51.20" lengthAdjust="spacingAndGlyphs" >Reflection</text>
<text x="357.45" y="484.00" font-size="10" text-anchor="start" fill="#e0506f" stroke="#e0506f" stroke-width="0.18" font-family="Liberation Sans" textLength="79.40" lengthAdjust="spacingAndGlyphs" >Trivial atom mirror</text>
<text x="379.05" y="496.00" font-size="10" text-anchor="start" fill="#e0506f" stroke="#e0506f" stroke-width="0.18" font-family="Liberation Sans" textLength="34.40" lengthAdjust="spacingAndGlyphs" >(J<tspan dy="2.7" font-size="8.5">0</tspan><tspan dy="-2.7"> = </tspan>0)</text>
<text x="335.05" y="524.00" font-size="10" text-anchor="start" fill="#2e517b" stroke="#2e517b" stroke-width="0.18" font-family="Liberation Sans" textLength="103.40" lengthAdjust="spacingAndGlyphs" >Topological atom mirror</text>
<text x="368.45" y="535.20" font-size="10" text-anchor="start" fill="#2e517b" stroke="#2e517b" stroke-width="0.18" font-family="Liberation Sans" textLength="45.60" lengthAdjust="spacingAndGlyphs" >( J<tspan dy="2.7" font-size="8.5">0</tspan><tspan dy="-2.7"> = </tspan>8<tspan font-family="Liberation Serif">Γ</tspan> )</text>
</svg>
</body></html>
